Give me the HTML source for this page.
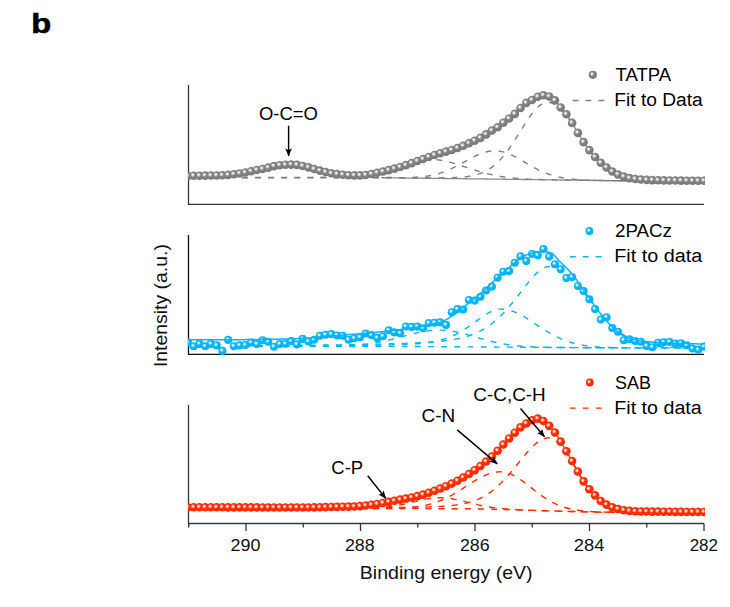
<!DOCTYPE html>
<html><head><meta charset="utf-8"><title>XPS C 1s</title>
<style>html,body{margin:0;padding:0;background:#fff;width:730px;height:607px;overflow:hidden}svg{display:block}</style>
</head><body>
<svg width="730" height="607" viewBox="0 0 730 607">
<defs>
<radialGradient id="gG" cx="0.40" cy="0.39" r="0.58"><stop offset="0" stop-color="#fbfbfb"/><stop offset="0.14" stop-color="#ebebeb"/><stop offset="0.46" stop-color="#838383"/><stop offset="1" stop-color="#787878"/></radialGradient>
<radialGradient id="gB" cx="0.40" cy="0.39" r="0.58"><stop offset="0" stop-color="#fbfeff"/><stop offset="0.14" stop-color="#dff4ff"/><stop offset="0.46" stop-color="#05b5fb"/><stop offset="1" stop-color="#02b1f7"/></radialGradient>
<radialGradient id="gR" cx="0.40" cy="0.39" r="0.58"><stop offset="0" stop-color="#fffbfa"/><stop offset="0.14" stop-color="#ffe0d6"/><stop offset="0.46" stop-color="#ff2d00"/><stop offset="1" stop-color="#fa2b00"/></radialGradient>
<circle id="mG" cx="0" cy="0" r="4.3" fill="url(#gG)"/>
<circle id="mB" cx="0" cy="0" r="4.05" fill="url(#gB)"/>
<circle id="mR" cx="0" cy="0" r="4.3" fill="url(#gR)"/>
<circle id="lG" cx="0" cy="0" r="4.1" fill="url(#gG)"/>
<circle id="lB" cx="0" cy="0" r="3.9" fill="url(#gB)"/>
<circle id="lR" cx="0" cy="0" r="3.9" fill="url(#gR)"/>
<clipPath id="c1"><rect x="187.9" y="60" width="517.1" height="150"/></clipPath>
<clipPath id="c2"><rect x="187.9" y="210" width="517.1" height="150"/></clipPath>
<clipPath id="c3"><rect x="187.9" y="380" width="517.1" height="150"/></clipPath>
<marker id="ah" viewBox="0 0 10 10" preserveAspectRatio="none" refX="9.5" refY="5" markerWidth="8.2" markerHeight="7" markerUnits="userSpaceOnUse" orient="auto"><path d="M0,0.2 L10,5 L0,9.8 L2.4,5 Z" fill="#000"/></marker>
</defs>
<rect width="730" height="607" fill="#fff"/>
<path d="M188.5,85 V204.4 H704" fill="none" stroke="#353535" stroke-width="1.3" stroke-linejoin="round"/>
<path d="M188.5,235 V354.4 H704" fill="none" stroke="#111" stroke-width="1.3" stroke-linejoin="round"/>
<path d="M188.5,405 V523.5 H704" fill="none" stroke="#383838" stroke-width="1.3" stroke-linejoin="round"/>
<path d="M704,523.6 v7.5 M646.75,523.6 v4.0 M589.5,523.6 v7.5 M532.25,523.6 v4.0 M475,523.6 v7.5 M417.75,523.6 v4.0 M360.5,523.6 v7.5 M303.25,523.6 v4.0 M246,523.6 v7.5 M188.75,523.6 v4.0" stroke="#333" stroke-width="1.3" fill="none"/>
<g clip-path="url(#c1)">
<path d="M188,176 L189,175.95 L190,175.91 L191,175.87 L192,175.83 L193,175.8 L194,175.78 L195,175.76 L196,175.74 L197,175.72 L198,175.7 L199,175.69 L200,175.68 L201,175.66 L202,175.65 L203,175.64 L204,175.63 L205,175.62 L206,175.61 L207,175.6 L208,175.59 L209,175.58 L210,175.57 L211,175.56 L212,175.55 L213,175.54 L214,175.52 L215,175.51 L216,175.49 L217,175.47 L218,175.45 L219,175.43 L220,175.4 L221,175.37 L222,175.32 L223,175.27 L224,175.21 L225,175.14 L226,175.06 L227,174.97 L228,174.88 L229,174.78 L230,174.67 L231,174.56 L232,174.44 L233,174.32 L234,174.2 L235,174.07 L236,173.94 L237,173.8 L238,173.67 L239,173.54 L240,173.4 L241,173.26 L242,173.1 L243,172.92 L244,172.73 L245,172.54 L246,172.33 L247,172.11 L248,171.89 L249,171.67 L250,171.44 L251,171.21 L252,170.99 L253,170.77 L254,170.55 L255,170.34 L256,170.14 L257,169.94 L258,169.76 L259,169.59 L260,169.41 L261,169.23 L262,169.04 L263,168.83 L264,168.62 L265,168.39 L266,168.16 L267,167.92 L268,167.68 L269,167.42 L270,167.15 L271,166.87 L272,166.6 L273,166.35 L274,166.14 L275,165.93 L276,165.73 L277,165.55 L278,165.39 L279,165.25 L280,165.15 L281,165.07 L282,164.99 L283,164.93 L284,164.87 L285,164.82 L286,164.77 L287,164.72 L288,164.68 L289,164.64 L290,164.61 L291,164.6 L292,164.61 L293,164.63 L294,164.68 L295,164.73 L296,164.8 L297,164.88 L298,164.98 L299,165.14 L300,165.36 L301,165.6 L302,165.84 L303,166.07 L304,166.29 L305,166.51 L306,166.75 L307,166.99 L308,167.25 L309,167.52 L310,167.81 L311,168.12 L312,168.43 L313,168.73 L314,169.03 L315,169.31 L316,169.6 L317,169.88 L318,170.15 L319,170.42 L320,170.68 L321,170.93 L322,171.17 L323,171.41 L324,171.65 L325,171.88 L326,172.12 L327,172.37 L328,172.61 L329,172.85 L330,173.07 L331,173.27 L332,173.42 L333,173.56 L334,173.69 L335,173.81 L336,173.93 L337,174.05 L338,174.17 L339,174.29 L340,174.41 L341,174.53 L342,174.64 L343,174.76 L344,174.88 L345,175.01 L346,175.13 L347,175.23 L348,175.29 L349,175.32 L350,175.35 L351,175.37 L352,175.39 L353,175.4 L354,175.4 L355,175.4 L356,175.4 L357,175.4 L358,175.4 L359,175.4 L360,175.4 L361,175.37 L362,175.31 L363,175.24 L364,175.15 L365,175.05 L366,174.95 L367,174.82 L368,174.67 L369,174.5 L370,174.32 L371,174.14 L372,173.94 L373,173.72 L374,173.48 L375,173.24 L376,173 L377,172.78 L378,172.57 L379,172.36 L380,172.16 L381,171.96 L382,171.75 L383,171.53 L384,171.3 L385,171.07 L386,170.82 L387,170.58 L388,170.33 L389,170.07 L390,169.82 L391,169.56 L392,169.29 L393,169.02 L394,168.75 L395,168.48 L396,168.21 L397,167.94 L398,167.66 L399,167.37 L400,167.07 L401,166.76 L402,166.44 L403,166.11 L404,165.77 L405,165.44 L406,165.1 L407,164.76 L408,164.42 L409,164.08 L410,163.73 L411,163.37 L412,163 L413,162.62 L414,162.23 L415,161.85 L416,161.47 L417,161.1 L418,160.75 L419,160.42 L420,160.1 L421,159.77 L422,159.44 L423,159.1 L424,158.74 L425,158.38 L426,158.02 L427,157.65 L428,157.28 L429,156.92 L430,156.55 L431,156.17 L432,155.8 L433,155.44 L434,155.1 L435,154.78 L436,154.46 L437,154.16 L438,153.86 L439,153.57 L440,153.29 L441,153 L442,152.73 L443,152.46 L444,152.19 L445,151.91 L446,151.63 L447,151.35 L448,151.08 L449,150.79 L450,150.5 L451,150.2 L452,149.88 L453,149.56 L454,149.22 L455,148.87 L456,148.52 L457,148.16 L458,147.81 L459,147.44 L460,147.07 L461,146.69 L462,146.3 L463,145.9 L464,145.48 L465,145.05 L466,144.62 L467,144.18 L468,143.73 L469,143.29 L470,142.84 L471,142.39 L472,141.93 L473,141.47 L474,141 L475,140.53 L476,140.07 L477,139.6 L478,139.12 L479,138.62 L480,138.09 L481,137.54 L482,136.96 L483,136.36 L484,135.74 L485,135.12 L486,134.48 L487,133.81 L488,133.12 L489,132.43 L490,131.74 L491,131.08 L492,130.46 L493,129.88 L494,129.34 L495,128.8 L496,128.25 L497,127.65 L498,126.99 L499,126.25 L500,125.44 L501,124.6 L502,123.76 L503,122.95 L504,122.2 L505,121.47 L506,120.75 L507,120.03 L508,119.3 L509,118.55 L510,117.79 L511,117.01 L512,116.23 L513,115.42 L514,114.58 L515,113.7 L516,112.74 L517,111.7 L518,110.62 L519,109.54 L520,108.49 L521,107.51 L522,106.53 L523,105.56 L524,104.63 L525,103.77 L526,103.03 L527,102.42 L528,101.89 L529,101.42 L530,100.97 L531,100.51 L532,100 L533,99.41 L534,98.76 L535,98.11 L536,97.51 L537,97.02 L538,96.64 L539,96.27 L540,95.93 L541,95.64 L542,95.42 L543,95.31 L544,95.32 L545,95.42 L546,95.6 L547,95.84 L548,96.13 L549,96.44 L550,96.81 L551,97.33 L552,97.98 L553,98.73 L554,99.55 L555,100.42 L556,101.39 L557,102.57 L558,103.89 L559,105.26 L560,106.61 L561,107.86 L562,109.04 L563,110.18 L564,111.33 L565,112.51 L566,113.75 L567,115.08 L568,116.49 L569,117.97 L570,119.51 L571,121.09 L572,122.7 L573,124.37 L574,126.11 L575,127.89 L576,129.68 L577,131.42 L578,133.11 L579,134.79 L580,136.45 L581,138.09 L582,139.69 L583,141.25 L584,142.74 L585,144.2 L586,145.62 L587,147 L588,148.35 L589,149.66 L590,150.93 L591,152.18 L592,153.4 L593,154.58 L594,155.74 L595,156.86 L596,157.95 L597,159.03 L598,160.08 L599,161.1 L600,162.07 L601,163 L602,163.88 L603,164.71 L604,165.52 L605,166.3 L606,167.05 L607,167.8 L608,168.54 L609,169.27 L610,169.98 L611,170.66 L612,171.3 L613,171.89 L614,172.46 L615,173 L616,173.52 L617,174.01 L618,174.47 L619,174.9 L620,175.31 L621,175.69 L622,176.06 L623,176.41 L624,176.74 L625,177.03 L626,177.31 L627,177.57 L628,177.81 L629,178.04 L630,178.25 L631,178.44 L632,178.6 L633,178.75 L634,178.89 L635,179.02 L636,179.14 L637,179.25 L638,179.34 L639,179.43 L640,179.5 L641,179.56 L642,179.62 L643,179.68 L644,179.73 L645,179.79 L646,179.83 L647,179.88 L648,179.93 L649,179.97 L650,180.01 L651,180.05 L652,180.09 L653,180.12 L654,180.15 L655,180.18 L656,180.21 L657,180.23 L658,180.26 L659,180.28 L660,180.3 L661,180.32 L662,180.34 L663,180.36 L664,180.37 L665,180.39 L666,180.41 L667,180.43 L668,180.45 L669,180.46 L670,180.48 L671,180.5 L672,180.51 L673,180.53 L674,180.54 L675,180.56 L676,180.57 L677,180.59 L678,180.6 L679,180.62 L680,180.63 L681,180.64 L682,180.65 L683,180.67 L684,180.68 L685,180.69 L686,180.7 L687,180.71 L688,180.72 L689,180.73 L690,180.74 L691,180.75 L692,180.75 L693,180.76 L694,180.77 L695,180.77 L696,180.78 L697,180.78 L698,180.79 L699,180.79 L700,180.79 L701,180.8 L702,180.8 L703,180.8 L704,180.8" fill="none" stroke="#7f7f7f" stroke-width="1.2"/>
<path d="M381,177.71 L382,177.72 L383,177.74 L384,177.75 L385,177.76 L386,177.77 L387,177.79 L388,177.8 L389,177.81 L390,177.82 L391,177.83 L392,177.85 L393,177.86 L394,177.87 L395,177.88 L396,177.9 L397,177.91 L398,177.92 L399,177.93 L400,177.94 L401,177.96 L402,177.97 L403,177.98 L404,177.99 L405,178.01 L406,178.02 L407,178.03 L408,178.04 L409,178.05 L410,178.07 L411,178.08 L412,178.09 L413,178.1 L414,178.12 L415,178.13 L416,178.14 L417,178.15 L418,178.16 L419,178.18 L420,178.19 L421,178.2 L422,178.21 L423,178.23 L424,178.24 L425,178.25 L426,178.26 L427,178.27 L428,178.29 L429,178.3 L430,178.31 L431,178.32 L432,178.34 L433,178.35 L434,178.36 L435,178.37 L436,178.38 L437,178.4 L438,178.41 L439,178.42 L440,178.43 L441,178.45 L442,178.46 L443,178.47 L444,178.48 L445,178.49 L446,178.51 L447,178.52 L448,178.53 L449,178.54 L450,178.56 L451,178.57 L452,178.58 L453,178.59 L454,178.6 L455,178.62 L456,178.63 L457,178.64 L458,178.65 L459,178.67 L460,178.68 L461,178.69 L462,178.7 L463,178.71 L464,178.73 L465,178.74 L466,178.75 L467,178.76 L468,178.78 L469,178.79 L470,178.8 L471,178.81 L472,178.83 L473,178.84 L474,178.85 L475,178.87 L476,178.88 L477,178.89 L478,178.91 L479,178.92 L480,178.93 L481,178.94 L482,178.96 L483,178.97 L484,178.98 L485,179 L486,179.01 L487,179.02 L488,179.04 L489,179.05 L490,179.06 L491,179.08 L492,179.09 L493,179.1 L494,179.12 L495,179.13 L496,179.14 L497,179.15 L498,179.17 L499,179.18 L500,179.19 L501,179.21 L502,179.22 L503,179.23 L504,179.25 L505,179.26 L506,179.27 L507,179.29 L508,179.3 L509,179.31 L510,179.33 L511,179.34 L512,179.35 L513,179.36 L514,179.38 L515,179.39 L516,179.4 L517,179.42 L518,179.43 L519,179.44 L520,179.46 L521,179.47 L522,179.48 L523,179.5 L524,179.51 L525,179.52 L526,179.53 L527,179.55 L528,179.56 L529,179.57 L530,179.59 L531,179.6 L532,179.61 L533,179.63 L534,179.64 L535,179.65 L536,179.67 L537,179.68 L538,179.69 L539,179.71 L540,179.72 L541,179.73 L542,179.75 L543,179.76 L544,179.77 L545,179.78 L546,179.8 L547,179.81 L548,179.82 L549,179.84 L550,179.85 L551,179.86 L552,179.88 L553,179.89 L554,179.9 L555,179.92 L556,179.93 L557,179.94 L558,179.96 L559,179.97 L560,179.98 L561,179.99 L562,180.01 L563,180.02 L564,180.03 L565,180.05 L566,180.06 L567,180.07 L568,180.09 L569,180.1 L570,180.11 L571,180.13 L572,180.14 L573,180.15 L574,180.17 L575,180.18 L576,180.19 L577,180.2 L578,180.22 L579,180.23 L580,180.24 L581,180.26 L582,180.27 L583,180.28 L584,180.3 L585,180.31 L586,180.32 L587,180.34 L588,180.35 L589,180.36 L590,180.38 L591,180.39 L592,180.4 L593,180.41 L594,180.43 L595,180.44 L596,180.45 L597,180.47 L598,180.48 L599,180.49 L600,180.51 L601,180.52 L602,180.53 L603,180.55 L604,180.56 L605,180.57 L606,180.59 L607,180.6 L608,180.61 L609,180.62 L610,180.64 L611,180.65 L612,180.66 L613,180.68 L614,180.69 L615,180.7 L616,180.72 L617,180.73 L618,180.74 L619,180.76 L620,180.77 L621,180.78 L622,180.8 L623,180.81 L624,180.82 L625,180.83 L626,180.85 L627,180.86 L628,180.87 L629,180.89 L630,180.9 L631,180.9 L632,180.91 L633,180.91 L634,180.92 L635,180.92 L636,180.92 L637,180.93 L638,180.93 L639,180.94 L640,180.94 L641,180.94 L642,180.95 L643,180.95 L644,180.96 L645,180.96 L646,180.96 L647,180.97 L648,180.97 L649,180.98 L650,180.98 L651,180.99 L652,180.99 L653,180.99 L654,181 L655,181 L656,181.01 L657,181.01 L658,181.01 L659,181.02 L660,181.02 L661,181.03 L662,181.03 L663,181.03 L664,181.04 L665,181.04 L666,181.05 L667,181.05 L668,181.05 L669,181.06 L670,181.06 L671,181.07 L672,181.07 L673,181.07 L674,181.08 L675,181.08 L676,181.09 L677,181.09 L678,181.09 L679,181.1 L680,181.1 L681,181.11 L682,181.11 L683,181.11 L684,181.12 L685,181.12 L686,181.13 L687,181.13 L688,181.14 L689,181.14 L690,181.14 L691,181.15 L692,181.15 L693,181.16 L694,181.16 L695,181.16 L696,181.17 L697,181.17 L698,181.18 L699,181.18 L700,181.18 L701,181.19 L702,181.19 L703,181.2 L704,181.2" fill="none" stroke="#8c8c8c" stroke-width="1.3"/>
<path d="M242,177.55 L243,177.55 L244,177.55 L245,177.55 L246,177.55 L247,177.55 L248,177.55 L249,177.55 L250,177.55 L251,177.55 L252,177.55 L253,177.55 L254,177.55 L255,177.55 L256,177.55 L257,177.55 L258,177.55 L259,177.55 L260,177.55 L261,177.55 L262,177.55 L263,177.55 L264,177.55 L265,177.55 L266,177.55 L267,177.55 L268,177.55 L269,177.55 L270,177.55 L271,177.55 L272,177.55 L273,177.55 L274,177.55 L275,177.55 L276,177.55 L277,177.55 L278,177.55 L279,177.55 L280,177.55 L281,177.55 L282,177.55 L283,177.55 L284,177.55 L285,177.55 L286,177.55 L287,177.55 L288,177.55 L289,177.55 L290,177.55 L291,177.55 L292,177.55 L293,177.55 L294,177.55 L295,177.55 L296,177.55 L297,177.55 L298,177.55 L299,177.55 L300,177.55 L301,177.55 L302,177.55 L303,177.55 L304,177.55 L305,177.54 L306,177.54 L307,177.54 L308,177.54 L309,177.54 L310,177.54 L311,177.54 L312,177.54 L313,177.54 L314,177.54 L315,177.54 L316,177.54 L317,177.54 L318,177.54 L319,177.54 L320,177.54 L321,177.54 L322,177.54 L323,177.54 L324,177.53 L325,177.53 L326,177.53 L327,177.53 L328,177.53 L329,177.53 L330,177.53 L331,177.53 L332,177.53 L333,177.53 L334,177.53 L335,177.53 L336,177.53 L337,177.52 L338,177.52 L339,177.52 L340,177.52 L341,177.52 L342,177.52 L343,177.52 L344,177.52 L345,177.52 L346,177.52 L347,177.51 L348,177.51 L349,177.51 L350,177.51 L351,177.51 L352,177.51 L353,177.51 L354,177.51 L355,177.51 L356,177.5 L357,177.5 L358,177.5 L359,177.5 L360,177.5 L361,177.5 L362,177.5 L363,177.49 L364,177.49 L365,177.49 L366,177.49 L367,177.49 L368,177.49 L369,177.48 L370,177.48 L371,177.48 L372,177.48 L373,177.48 L374,177.47 L375,177.47 L376,177.47 L377,177.47 L378,177.47 L379,177.46 L380,177.46 L381,177.47 L382,177.48 L383,177.49 L384,177.5 L385,177.51 L386,177.52 L387,177.53 L388,177.54 L389,177.55 L390,177.55 L391,177.56 L392,177.57 L393,177.58 L394,177.59 L395,177.6 L396,177.61 L397,177.62 L398,177.62 L399,177.63 L400,177.64 L401,177.65 L402,177.66 L403,177.67 L404,177.67 L405,177.68 L406,177.69 L407,177.7 L408,177.7 L409,177.71 L410,177.72 L411,177.73 L412,177.73 L413,177.74 L414,177.75 L415,177.76 L416,177.76 L417,177.77 L418,177.77 L419,177.78 L420,177.79 L421,177.79 L422,177.8 L423,177.8 L424,177.81 L425,177.81 L426,177.82 L427,177.82 L428,177.83 L429,177.83 L430,177.83 L431,177.84 L432,177.84 L433,177.84 L434,177.84 L435,177.84 L436,177.84 L437,177.84 L438,177.84 L439,177.84 L440,177.83 L441,177.83 L442,177.82 L443,177.81 L444,177.81 L445,177.8 L446,177.78 L447,177.77 L448,177.75 L449,177.73 L450,177.71 L451,177.69 L452,177.66 L453,177.63 L454,177.59 L455,177.56 L456,177.51 L457,177.46 L458,177.41 L459,177.35 L460,177.28 L461,177.21 L462,177.13 L463,177.04 L464,176.95 L465,176.84 L466,176.73 L467,176.6 L468,176.46 L469,176.31 L470,176.15 L471,175.97 L472,175.78 L473,175.57 L474,175.35 L475,175.1 L476,174.84 L477,174.56 L478,174.25 L479,173.93 L480,173.58 L481,173.2 L482,172.8 L483,172.37 L484,171.92 L485,171.43 L486,170.92 L487,170.37 L488,169.78 L489,169.17 L490,168.52 L491,167.83 L492,167.11 L493,166.34 L494,165.54 L495,164.7 L496,163.82 L497,162.9 L498,161.94 L499,160.94 L500,159.89 L501,158.81 L502,157.68 L503,156.52 L504,155.31 L505,154.07 L506,152.79 L507,151.47 L508,150.11 L509,148.72 L510,147.3 L511,145.84 L512,144.36 L513,142.85 L514,141.32 L515,139.77 L516,138.2 L517,136.61 L518,135.01 L519,133.41 L520,131.8 L521,130.19 L522,128.58 L523,126.98 L524,125.39 L525,123.82 L526,122.27 L527,120.74 L528,119.25 L529,117.79 L530,116.37 L531,114.99 L532,113.66 L533,112.38 L534,111.16 L535,110.01 L536,108.92 L537,107.9 L538,106.95 L539,106.09 L540,105.31 L541,104.61 L542,104 L543,103.48 L544,103.06 L545,102.73 L546,102.49 L547,102.36 L548,102.32 L549,102.38 L550,102.53 L551,102.76 L552,103.09 L553,103.49 L554,103.99 L555,104.56 L556,105.22 L557,105.96 L558,106.77 L559,107.65 L560,108.6 L561,109.62 L562,110.71 L563,111.85 L564,113.04 L565,114.29 L566,115.58 L567,116.92 L568,118.3 L569,119.71 L570,121.16 L571,122.63 L572,124.12 L573,125.64 L574,127.17 L575,128.71 L576,130.26 L577,131.81 L578,133.37 L579,134.92 L580,136.47 L581,138.01 L582,139.54 L583,141.05 L584,142.55 L585,144.03 L586,145.48 L587,146.91 L588,148.32 L589,149.7 L590,151.05 L591,152.36 L592,153.65 L593,154.9 L594,156.12 L595,157.3 L596,158.45 L597,159.56 L598,160.64 L599,161.67 L600,162.67 L601,163.64 L602,164.56 L603,165.45 L604,166.31 L605,167.12 L606,167.91 L607,168.65 L608,169.37 L609,170.05 L610,170.69 L611,171.31 L612,171.89 L613,172.44 L614,172.97 L615,173.47 L616,173.94 L617,174.38 L618,174.8 L619,175.19 L620,175.56 L621,175.91 L622,176.24 L623,176.55 L624,176.84 L625,177.11 L626,177.36 L627,177.6 L628,177.83 L629,178.03 L630,178.23 L631,178.4 L632,178.56 L633,178.71 L634,178.85 L635,178.98 L636,179.1 L637,179.21 L638,179.31 L639,179.41 L640,179.5 L641,179.58 L642,179.66 L643,179.73 L644,179.79 L645,179.85 L646,179.91 L647,179.96 L648,180.01 L649,180.05 L650,180.1 L651,180.14 L652,180.17 L653,180.21 L654,180.24 L655,180.27 L656,180.3 L657,180.32 L658,180.35 L659,180.37 L660,180.39 L661,180.41 L662,180.43 L663,180.45 L664,180.47 L665,180.49 L666,180.5 L667,180.52 L668,180.54 L669,180.55 L670,180.56 L671,180.58 L672,180.59 L673,180.6 L674,180.62 L675,180.63 L676,180.64 L677,180.65 L678,180.66 L679,180.67 L680,180.68 L681,180.69 L682,180.7 L683,180.71 L684,180.72 L685,180.73 L686,180.74 L687,180.75 L688,180.76 L689,180.77 L690,180.78 L691,180.79 L692,180.8 L693,180.81 L694,180.82 L695,180.82 L696,180.83 L697,180.84 L698,180.85 L699,180.86 L700,180.87 L701,180.87 L702,180.88 L703,180.89 L704,180.9" fill="none" stroke="#7f7f7f" stroke-width="1.4" stroke-dasharray="5.8 7.3"/>
<path d="M242,177.63 L243,177.63 L244,177.63 L245,177.63 L246,177.63 L247,177.63 L248,177.63 L249,177.63 L250,177.63 L251,177.63 L252,177.63 L253,177.63 L254,177.63 L255,177.63 L256,177.64 L257,177.64 L258,177.64 L259,177.64 L260,177.64 L261,177.64 L262,177.64 L263,177.64 L264,177.64 L265,177.64 L266,177.64 L267,177.64 L268,177.64 L269,177.64 L270,177.64 L271,177.64 L272,177.64 L273,177.64 L274,177.64 L275,177.65 L276,177.65 L277,177.65 L278,177.65 L279,177.65 L280,177.65 L281,177.65 L282,177.65 L283,177.65 L284,177.65 L285,177.65 L286,177.65 L287,177.65 L288,177.65 L289,177.65 L290,177.65 L291,177.65 L292,177.65 L293,177.65 L294,177.66 L295,177.66 L296,177.66 L297,177.66 L298,177.66 L299,177.66 L300,177.66 L301,177.66 L302,177.66 L303,177.66 L304,177.66 L305,177.66 L306,177.66 L307,177.66 L308,177.66 L309,177.66 L310,177.66 L311,177.66 L312,177.66 L313,177.67 L314,177.67 L315,177.67 L316,177.67 L317,177.67 L318,177.67 L319,177.67 L320,177.67 L321,177.67 L322,177.67 L323,177.67 L324,177.67 L325,177.67 L326,177.67 L327,177.67 L328,177.67 L329,177.67 L330,177.67 L331,177.67 L332,177.67 L333,177.68 L334,177.68 L335,177.68 L336,177.68 L337,177.68 L338,177.68 L339,177.68 L340,177.68 L341,177.68 L342,177.68 L343,177.68 L344,177.68 L345,177.68 L346,177.68 L347,177.68 L348,177.68 L349,177.68 L350,177.68 L351,177.68 L352,177.69 L353,177.69 L354,177.69 L355,177.69 L356,177.69 L357,177.69 L358,177.69 L359,177.69 L360,177.69 L361,177.69 L362,177.69 L363,177.69 L364,177.69 L365,177.69 L366,177.69 L367,177.69 L368,177.69 L369,177.69 L370,177.69 L371,177.69 L372,177.69 L373,177.69 L374,177.69 L375,177.69 L376,177.69 L377,177.69 L378,177.68 L379,177.68 L380,177.68 L381,177.69 L382,177.7 L383,177.71 L384,177.72 L385,177.73 L386,177.73 L387,177.74 L388,177.75 L389,177.75 L390,177.76 L391,177.76 L392,177.77 L393,177.77 L394,177.77 L395,177.77 L396,177.77 L397,177.77 L398,177.77 L399,177.76 L400,177.76 L401,177.75 L402,177.74 L403,177.72 L404,177.71 L405,177.69 L406,177.67 L407,177.65 L408,177.62 L409,177.59 L410,177.56 L411,177.52 L412,177.48 L413,177.43 L414,177.38 L415,177.32 L416,177.26 L417,177.19 L418,177.11 L419,177.03 L420,176.95 L421,176.85 L422,176.75 L423,176.64 L424,176.52 L425,176.39 L426,176.25 L427,176.11 L428,175.95 L429,175.78 L430,175.6 L431,175.42 L432,175.22 L433,175 L434,174.78 L435,174.54 L436,174.29 L437,174.03 L438,173.75 L439,173.46 L440,173.16 L441,172.85 L442,172.51 L443,172.17 L444,171.81 L445,171.44 L446,171.05 L447,170.65 L448,170.24 L449,169.81 L450,169.37 L451,168.91 L452,168.45 L453,167.97 L454,167.48 L455,166.98 L456,166.47 L457,165.95 L458,165.43 L459,164.89 L460,164.35 L461,163.8 L462,163.25 L463,162.69 L464,162.13 L465,161.57 L466,161.01 L467,160.46 L468,159.9 L469,159.35 L470,158.8 L471,158.26 L472,157.73 L473,157.21 L474,156.7 L475,156.2 L476,155.72 L477,155.25 L478,154.8 L479,154.37 L480,153.96 L481,153.56 L482,153.19 L483,152.85 L484,152.52 L485,152.23 L486,151.96 L487,151.71 L488,151.5 L489,151.31 L490,151.15 L491,151.03 L492,150.93 L493,150.86 L494,150.83 L495,150.83 L496,150.86 L497,150.92 L498,151.01 L499,151.13 L500,151.28 L501,151.47 L502,151.68 L503,151.92 L504,152.19 L505,152.49 L506,152.81 L507,153.16 L508,153.53 L509,153.93 L510,154.35 L511,154.79 L512,155.25 L513,155.73 L514,156.22 L515,156.73 L516,157.25 L517,157.79 L518,158.34 L519,158.89 L520,159.46 L521,160.03 L522,160.61 L523,161.19 L524,161.77 L525,162.36 L526,162.94 L527,163.53 L528,164.11 L529,164.69 L530,165.26 L531,165.83 L532,166.39 L533,166.94 L534,167.48 L535,168.02 L536,168.54 L537,169.06 L538,169.56 L539,170.05 L540,170.53 L541,171 L542,171.45 L543,171.89 L544,172.32 L545,172.73 L546,173.13 L547,173.51 L548,173.88 L549,174.24 L550,174.58 L551,174.91 L552,175.22 L553,175.52 L554,175.81 L555,176.09 L556,176.35 L557,176.6 L558,176.83 L559,177.06 L560,177.27 L561,177.48 L562,177.67 L563,177.85 L564,178.02 L565,178.19 L566,178.34 L567,178.48 L568,178.62 L569,178.75 L570,178.87 L571,178.98 L572,179.09 L573,179.19 L574,179.28 L575,179.37 L576,179.45 L577,179.53 L578,179.6 L579,179.67 L580,179.73 L581,179.79 L582,179.85 L583,179.9 L584,179.95 L585,179.99 L586,180.04 L587,180.08 L588,180.12 L589,180.15 L590,180.19 L591,180.22 L592,180.25 L593,180.28 L594,180.31 L595,180.33 L596,180.36 L597,180.38 L598,180.4 L599,180.42 L600,180.44 L601,180.46 L602,180.48 L603,180.5 L604,180.52 L605,180.54 L606,180.55 L607,180.57 L608,180.59 L609,180.6 L610,180.62 L611,180.63 L612,180.65 L613,180.66 L614,180.68 L615,180.69 L616,180.71 L617,180.72 L618,180.74 L619,180.75 L620,180.76 L621,180.78 L622,180.79 L623,180.8 L624,180.82 L625,180.83 L626,180.85 L627,180.86 L628,180.87 L629,180.89 L630,180.9 L631,180.9 L632,180.91 L633,180.91 L634,180.92 L635,180.92 L636,180.92 L637,180.93 L638,180.93 L639,180.94 L640,180.94 L641,180.94 L642,180.95 L643,180.95 L644,180.96 L645,180.96 L646,180.96 L647,180.97 L648,180.97 L649,180.98 L650,180.98 L651,180.99 L652,180.99 L653,180.99 L654,181 L655,181 L656,181.01 L657,181.01 L658,181.01 L659,181.02 L660,181.02 L661,181.03 L662,181.03 L663,181.03 L664,181.04 L665,181.04 L666,181.05 L667,181.05 L668,181.05 L669,181.06 L670,181.06 L671,181.07 L672,181.07 L673,181.07 L674,181.08 L675,181.08 L676,181.09 L677,181.09 L678,181.09 L679,181.1 L680,181.1 L681,181.11 L682,181.11 L683,181.11 L684,181.12 L685,181.12 L686,181.13 L687,181.13 L688,181.14 L689,181.14 L690,181.14 L691,181.15 L692,181.15 L693,181.16 L694,181.16 L695,181.16 L696,181.17 L697,181.17 L698,181.18 L699,181.18 L700,181.18 L701,181.19 L702,181.19 L703,181.2 L704,181.2" fill="none" stroke="#7f7f7f" stroke-width="1.4" stroke-dasharray="5.8 7.3"/>
<path d="M242,177.63 L243,177.63 L244,177.63 L245,177.63 L246,177.63 L247,177.63 L248,177.63 L249,177.63 L250,177.63 L251,177.63 L252,177.63 L253,177.63 L254,177.63 L255,177.63 L256,177.64 L257,177.64 L258,177.64 L259,177.64 L260,177.64 L261,177.64 L262,177.64 L263,177.64 L264,177.64 L265,177.64 L266,177.64 L267,177.64 L268,177.64 L269,177.64 L270,177.64 L271,177.64 L272,177.64 L273,177.64 L274,177.64 L275,177.64 L276,177.64 L277,177.64 L278,177.64 L279,177.64 L280,177.64 L281,177.64 L282,177.64 L283,177.64 L284,177.64 L285,177.64 L286,177.64 L287,177.64 L288,177.64 L289,177.64 L290,177.64 L291,177.64 L292,177.64 L293,177.64 L294,177.64 L295,177.64 L296,177.64 L297,177.64 L298,177.63 L299,177.63 L300,177.63 L301,177.63 L302,177.63 L303,177.62 L304,177.62 L305,177.62 L306,177.61 L307,177.61 L308,177.6 L309,177.6 L310,177.59 L311,177.58 L312,177.58 L313,177.57 L314,177.56 L315,177.55 L316,177.54 L317,177.53 L318,177.52 L319,177.5 L320,177.49 L321,177.48 L322,177.46 L323,177.44 L324,177.42 L325,177.4 L326,177.38 L327,177.36 L328,177.33 L329,177.3 L330,177.27 L331,177.24 L332,177.21 L333,177.17 L334,177.13 L335,177.09 L336,177.05 L337,177 L338,176.95 L339,176.9 L340,176.84 L341,176.79 L342,176.72 L343,176.66 L344,176.59 L345,176.51 L346,176.43 L347,176.35 L348,176.26 L349,176.17 L350,176.08 L351,175.97 L352,175.87 L353,175.76 L354,175.64 L355,175.52 L356,175.39 L357,175.26 L358,175.12 L359,174.97 L360,174.82 L361,174.66 L362,174.5 L363,174.33 L364,174.15 L365,173.97 L366,173.78 L367,173.58 L368,173.38 L369,173.17 L370,172.96 L371,172.74 L372,172.51 L373,172.27 L374,172.03 L375,171.78 L376,171.53 L377,171.27 L378,171 L379,170.73 L380,170.46 L381,170.19 L382,169.91 L383,169.63 L384,169.35 L385,169.06 L386,168.77 L387,168.48 L388,168.18 L389,167.88 L390,167.57 L391,167.27 L392,166.96 L393,166.65 L394,166.35 L395,166.04 L396,165.73 L397,165.43 L398,165.12 L399,164.82 L400,164.52 L401,164.22 L402,163.93 L403,163.64 L404,163.36 L405,163.08 L406,162.8 L407,162.54 L408,162.28 L409,162.03 L410,161.78 L411,161.55 L412,161.32 L413,161.11 L414,160.9 L415,160.71 L416,160.52 L417,160.35 L418,160.19 L419,160.04 L420,159.91 L421,159.79 L422,159.68 L423,159.58 L424,159.5 L425,159.43 L426,159.38 L427,159.34 L428,159.32 L429,159.31 L430,159.31 L431,159.33 L432,159.36 L433,159.41 L434,159.48 L435,159.55 L436,159.65 L437,159.75 L438,159.87 L439,160.01 L440,160.15 L441,160.31 L442,160.48 L443,160.67 L444,160.87 L445,161.07 L446,161.29 L447,161.52 L448,161.76 L449,162.01 L450,162.27 L451,162.54 L452,162.82 L453,163.1 L454,163.39 L455,163.69 L456,163.99 L457,164.3 L458,164.61 L459,164.93 L460,165.25 L461,165.58 L462,165.9 L463,166.23 L464,166.56 L465,166.89 L466,167.23 L467,167.56 L468,167.89 L469,168.22 L470,168.55 L471,168.88 L472,169.21 L473,169.53 L474,169.85 L475,170.17 L476,170.48 L477,170.79 L478,171.09 L479,171.39 L480,171.69 L481,171.98 L482,172.26 L483,172.54 L484,172.82 L485,173.08 L486,173.34 L487,173.6 L488,173.85 L489,174.09 L490,174.32 L491,174.55 L492,174.78 L493,174.99 L494,175.2 L495,175.41 L496,175.6 L497,175.79 L498,175.98 L499,176.15 L500,176.32 L501,176.49 L502,176.65 L503,176.8 L504,176.95 L505,177.09 L506,177.23 L507,177.36 L508,177.48 L509,177.6 L510,177.72 L511,177.83 L512,177.93 L513,178.03 L514,178.13 L515,178.22 L516,178.31 L517,178.39 L518,178.47 L519,178.55 L520,178.62 L521,178.69 L522,178.76 L523,178.82 L524,178.88 L525,178.94 L526,178.99 L527,179.04 L528,179.09 L529,179.14 L530,179.19 L531,179.23 L532,179.27 L533,179.31 L534,179.35 L535,179.38 L536,179.42 L537,179.45 L538,179.48 L539,179.51 L540,179.54 L541,179.57 L542,179.59 L543,179.62 L544,179.64 L545,179.67 L546,179.69 L547,179.71 L548,179.74 L549,179.76 L550,179.78 L551,179.8 L552,179.82 L553,179.83 L554,179.85 L555,179.87 L556,179.89 L557,179.9 L558,179.92 L559,179.94 L560,179.95 L561,179.97 L562,179.98 L563,180 L564,180.02 L565,180.03 L566,180.04 L567,180.06 L568,180.07 L569,180.09 L570,180.1 L571,180.12 L572,180.13 L573,180.14 L574,180.16 L575,180.17 L576,180.19 L577,180.2 L578,180.21 L579,180.23 L580,180.24 L581,180.25 L582,180.27 L583,180.28 L584,180.29 L585,180.31 L586,180.32 L587,180.33 L588,180.35 L589,180.36 L590,180.37 L591,180.39 L592,180.4 L593,180.41 L594,180.43 L595,180.44 L596,180.45 L597,180.47 L598,180.48 L599,180.49 L600,180.51 L601,180.52 L602,180.53 L603,180.55 L604,180.56 L605,180.57 L606,180.58 L607,180.6 L608,180.61 L609,180.62 L610,180.64 L611,180.65 L612,180.66 L613,180.68 L614,180.69 L615,180.7 L616,180.72 L617,180.73 L618,180.74 L619,180.76 L620,180.77 L621,180.78 L622,180.79 L623,180.81 L624,180.82 L625,180.83 L626,180.85 L627,180.86 L628,180.87 L629,180.89 L630,180.9 L631,180.9 L632,180.91 L633,180.91 L634,180.92 L635,180.92 L636,180.92 L637,180.93 L638,180.93 L639,180.94 L640,180.94 L641,180.94 L642,180.95 L643,180.95 L644,180.96 L645,180.96 L646,180.96 L647,180.97 L648,180.97 L649,180.98 L650,180.98 L651,180.99 L652,180.99 L653,180.99 L654,181 L655,181 L656,181.01 L657,181.01 L658,181.01 L659,181.02 L660,181.02 L661,181.03 L662,181.03 L663,181.03 L664,181.04 L665,181.04 L666,181.05 L667,181.05 L668,181.05 L669,181.06 L670,181.06 L671,181.07 L672,181.07 L673,181.07 L674,181.08 L675,181.08 L676,181.09 L677,181.09 L678,181.09 L679,181.1 L680,181.1 L681,181.11 L682,181.11 L683,181.11 L684,181.12 L685,181.12 L686,181.13 L687,181.13 L688,181.14 L689,181.14 L690,181.14 L691,181.15 L692,181.15 L693,181.16 L694,181.16 L695,181.16 L696,181.17 L697,181.17 L698,181.18 L699,181.18 L700,181.18 L701,181.19 L702,181.19 L703,181.2 L704,181.2" fill="none" stroke="#7f7f7f" stroke-width="1.4" stroke-dasharray="5.8 7.3"/>
<circle cx="188" cy="176" r="4.3" fill="url(#gG)"/>
<circle cx="193.73" cy="175.78" r="4.3" fill="url(#gG)"/>
<circle cx="199.47" cy="175.68" r="4.3" fill="url(#gG)"/>
<circle cx="205.2" cy="175.62" r="4.3" fill="url(#gG)"/>
<circle cx="210.93" cy="175.56" r="4.3" fill="url(#gG)"/>
<circle cx="216.67" cy="175.48" r="4.3" fill="url(#gG)"/>
<circle cx="222.4" cy="175.31" r="4.3" fill="url(#gG)"/>
<circle cx="228.13" cy="174.87" r="4.3" fill="url(#gG)"/>
<circle cx="233.87" cy="174.21" r="4.3" fill="url(#gG)"/>
<circle cx="239.6" cy="173.45" r="4.3" fill="url(#gG)"/>
<circle cx="245.33" cy="172.47" r="4.3" fill="url(#gG)"/>
<circle cx="251.07" cy="171.2" r="4.3" fill="url(#gG)"/>
<circle cx="256.8" cy="169.98" r="4.3" fill="url(#gG)"/>
<circle cx="262.53" cy="168.93" r="4.3" fill="url(#gG)"/>
<circle cx="268.27" cy="167.61" r="4.3" fill="url(#gG)"/>
<circle cx="274" cy="166.14" r="4.3" fill="url(#gG)"/>
<circle cx="279.73" cy="165.18" r="4.3" fill="url(#gG)"/>
<circle cx="285.47" cy="164.8" r="4.3" fill="url(#gG)"/>
<circle cx="291.2" cy="164.6" r="4.3" fill="url(#gG)"/>
<circle cx="296.93" cy="164.87" r="4.3" fill="url(#gG)"/>
<circle cx="302.67" cy="165.99" r="4.3" fill="url(#gG)"/>
<circle cx="308.4" cy="167.35" r="4.3" fill="url(#gG)"/>
<circle cx="314.13" cy="169.07" r="4.3" fill="url(#gG)"/>
<circle cx="319.87" cy="170.64" r="4.3" fill="url(#gG)"/>
<circle cx="325.6" cy="172.02" r="4.3" fill="url(#gG)"/>
<circle cx="331.33" cy="173.32" r="4.3" fill="url(#gG)"/>
<circle cx="337.07" cy="174.06" r="4.3" fill="url(#gG)"/>
<circle cx="342.8" cy="174.73" r="4.3" fill="url(#gG)"/>
<circle cx="348.53" cy="175.31" r="4.3" fill="url(#gG)"/>
<circle cx="354.27" cy="175.4" r="4.3" fill="url(#gG)"/>
<circle cx="360" cy="175.4" r="4.3" fill="url(#gG)"/>
<circle cx="365.73" cy="174.98" r="4.3" fill="url(#gG)"/>
<circle cx="371.47" cy="174.05" r="4.3" fill="url(#gG)"/>
<circle cx="377.2" cy="172.74" r="4.3" fill="url(#gG)"/>
<circle cx="382.93" cy="171.55" r="4.3" fill="url(#gG)"/>
<circle cx="388.67" cy="170.16" r="4.3" fill="url(#gG)"/>
<circle cx="394.4" cy="168.65" r="4.3" fill="url(#gG)"/>
<circle cx="400.13" cy="167.03" r="4.3" fill="url(#gG)"/>
<circle cx="405.87" cy="165.14" r="4.3" fill="url(#gG)"/>
<circle cx="411.6" cy="163.15" r="4.3" fill="url(#gG)"/>
<circle cx="417.33" cy="160.98" r="4.3" fill="url(#gG)"/>
<circle cx="423.07" cy="159.07" r="4.3" fill="url(#gG)"/>
<circle cx="428.8" cy="156.99" r="4.3" fill="url(#gG)"/>
<circle cx="434.53" cy="154.93" r="4.3" fill="url(#gG)"/>
<circle cx="440.27" cy="153.21" r="4.3" fill="url(#gG)"/>
<circle cx="446" cy="151.63" r="4.3" fill="url(#gG)"/>
<circle cx="451.73" cy="149.97" r="4.3" fill="url(#gG)"/>
<circle cx="457.47" cy="148" r="4.3" fill="url(#gG)"/>
<circle cx="463.2" cy="145.82" r="4.3" fill="url(#gG)"/>
<circle cx="468.93" cy="143.32" r="4.3" fill="url(#gG)"/>
<circle cx="474.67" cy="140.69" r="4.3" fill="url(#gG)"/>
<circle cx="480.4" cy="137.87" r="4.3" fill="url(#gG)"/>
<circle cx="486.13" cy="134.39" r="4.3" fill="url(#gG)"/>
<circle cx="491.87" cy="130.54" r="4.3" fill="url(#gG)"/>
<circle cx="497.6" cy="127.27" r="4.3" fill="url(#gG)"/>
<circle cx="503.33" cy="122.7" r="4.3" fill="url(#gG)"/>
<circle cx="509.07" cy="118.5" r="4.3" fill="url(#gG)"/>
<circle cx="514.8" cy="113.88" r="4.3" fill="url(#gG)"/>
<circle cx="520.53" cy="107.96" r="4.3" fill="url(#gG)"/>
<circle cx="526.27" cy="102.86" r="4.3" fill="url(#gG)"/>
<circle cx="532" cy="100" r="4.3" fill="url(#gG)"/>
<circle cx="537.73" cy="96.74" r="4.3" fill="url(#gG)"/>
<circle cx="543.47" cy="95.3" r="4.3" fill="url(#gG)"/>
<circle cx="549.2" cy="96.5" r="4.3" fill="url(#gG)"/>
<circle cx="554.93" cy="100.36" r="4.3" fill="url(#gG)"/>
<circle cx="560.67" cy="107.46" r="4.3" fill="url(#gG)"/>
<circle cx="566.4" cy="114.27" r="4.3" fill="url(#gG)"/>
<circle cx="572.13" cy="122.92" r="4.3" fill="url(#gG)"/>
<circle cx="577.87" cy="132.88" r="4.3" fill="url(#gG)"/>
<circle cx="583.6" cy="142.15" r="4.3" fill="url(#gG)"/>
<circle cx="589.33" cy="150.09" r="4.3" fill="url(#gG)"/>
<circle cx="595.07" cy="156.93" r="4.3" fill="url(#gG)"/>
<circle cx="600.8" cy="162.82" r="4.3" fill="url(#gG)"/>
<circle cx="606.53" cy="167.45" r="4.3" fill="url(#gG)"/>
<circle cx="612.27" cy="171.46" r="4.3" fill="url(#gG)"/>
<circle cx="618" cy="174.47" r="4.3" fill="url(#gG)"/>
<circle cx="623.73" cy="176.65" r="4.3" fill="url(#gG)"/>
<circle cx="629.47" cy="178.14" r="4.3" fill="url(#gG)"/>
<circle cx="635.2" cy="179.04" r="4.3" fill="url(#gG)"/>
<circle cx="640.93" cy="179.56" r="4.3" fill="url(#gG)"/>
<circle cx="646.67" cy="179.87" r="4.3" fill="url(#gG)"/>
<circle cx="652.4" cy="180.1" r="4.3" fill="url(#gG)"/>
<circle cx="658.13" cy="180.26" r="4.3" fill="url(#gG)"/>
<circle cx="663.87" cy="180.37" r="4.3" fill="url(#gG)"/>
<circle cx="669.6" cy="180.47" r="4.3" fill="url(#gG)"/>
<circle cx="675.33" cy="180.56" r="4.3" fill="url(#gG)"/>
<circle cx="681.07" cy="180.64" r="4.3" fill="url(#gG)"/>
<circle cx="686.8" cy="180.71" r="4.3" fill="url(#gG)"/>
<circle cx="692.53" cy="180.76" r="4.3" fill="url(#gG)"/>
<circle cx="698.27" cy="180.79" r="4.3" fill="url(#gG)"/>
<circle cx="704" cy="180.8" r="4.3" fill="url(#gG)"/>
</g>
<g clip-path="url(#c2)">
<path d="M244,345.59 L245,345.58 L246,345.58 L247,345.58 L248,345.57 L249,345.57 L250,345.56 L251,345.56 L252,345.55 L253,345.55 L254,345.54 L255,345.54 L256,345.53 L257,345.53 L258,345.52 L259,345.52 L260,345.51 L261,345.51 L262,345.5 L263,345.5 L264,345.49 L265,345.49 L266,345.48 L267,345.48 L268,345.47 L269,345.47 L270,345.46 L271,345.45 L272,345.45 L273,345.44 L274,345.44 L275,345.43 L276,345.43 L277,345.42 L278,345.41 L279,345.41 L280,345.4 L281,345.39 L282,345.39 L283,345.38 L284,345.37 L285,345.37 L286,345.36 L287,345.35 L288,345.35 L289,345.34 L290,345.33 L291,345.33 L292,345.32 L293,345.31 L294,345.3 L295,345.3 L296,345.29 L297,345.28 L298,345.27 L299,345.27 L300,345.26 L301,345.25 L302,345.24 L303,345.23 L304,345.22 L305,345.22 L306,345.21 L307,345.2 L308,345.19 L309,345.18 L310,345.17 L311,345.16 L312,345.15 L313,345.14 L314,345.13 L315,345.12 L316,345.11 L317,345.1 L318,345.09 L319,345.08 L320,345.07 L321,345.06 L322,345.05 L323,345.04 L324,345.03 L325,345.02 L326,345.01 L327,345 L328,344.99 L329,344.97 L330,344.96 L331,344.95 L332,344.94 L333,344.93 L334,344.91 L335,344.9 L336,344.89 L337,344.88 L338,344.86 L339,344.85 L340,344.84 L341,344.82 L342,344.81 L343,344.79 L344,344.78 L345,344.76 L346,344.75 L347,344.74 L348,344.72 L349,344.7 L350,344.69 L351,344.67 L352,344.66 L353,344.64 L354,344.62 L355,344.61 L356,344.59 L357,344.57 L358,344.56 L359,344.54 L360,344.52 L361,344.5 L362,344.48 L363,344.46 L364,344.44 L365,344.42 L366,344.4 L367,344.38 L368,344.36 L369,344.34 L370,344.32 L371,344.3 L372,344.28 L373,344.26 L374,344.23 L375,344.21 L376,344.19 L377,344.16 L378,344.14 L379,344.12 L380,344.09 L381,344.07 L382,344.04 L383,344.01 L384,343.99 L385,343.96 L386,343.93 L387,343.9 L388,343.87 L389,343.85 L390,343.82 L391,343.79 L392,343.76 L393,343.72 L394,343.69 L395,343.66 L396,343.63 L397,343.59 L398,343.56 L399,343.52 L400,343.49 L401,343.46 L402,343.43 L403,343.4 L404,343.36 L405,343.33 L406,343.3 L407,343.26 L408,343.23 L409,343.19 L410,343.15 L411,343.11 L412,343.08 L413,343.04 L414,342.99 L415,342.95 L416,342.91 L417,342.86 L418,342.82 L419,342.77 L420,342.72 L421,342.67 L422,342.62 L423,342.56 L424,342.51 L425,342.45 L426,342.39 L427,342.33 L428,342.27 L429,342.2 L430,342.14 L431,342.07 L432,342 L433,341.92 L434,341.84 L435,341.76 L436,341.68 L437,341.6 L438,341.51 L439,341.41 L440,341.32 L441,341.22 L442,341.11 L443,341.01 L444,340.89 L445,340.78 L446,340.66 L447,340.53 L448,340.4 L449,340.26 L450,340.11 L451,339.96 L452,339.81 L453,339.64 L454,339.47 L455,339.29 L456,339.11 L457,338.91 L458,338.71 L459,338.5 L460,338.28 L461,338.05 L462,337.8 L463,337.55 L464,337.29 L465,337.01 L466,336.73 L467,336.43 L468,336.12 L469,335.79 L470,335.45 L471,335.1 L472,334.73 L473,334.34 L474,333.94 L475,333.53 L476,333.09 L477,332.64 L478,332.17 L479,331.68 L480,331.18 L481,330.65 L482,330.1 L483,329.54 L484,328.95 L485,328.34 L486,327.71 L487,327.06 L488,326.38 L489,325.69 L490,324.97 L491,324.22 L492,323.46 L493,322.67 L494,321.85 L495,321.02 L496,320.15 L497,319.27 L498,318.36 L499,317.43 L500,316.47 L501,315.49 L502,314.48 L503,313.46 L504,312.41 L505,311.33 L506,310.24 L507,309.12 L508,307.99 L509,306.83 L510,305.66 L511,304.46 L512,303.25 L513,302.03 L514,300.79 L515,299.53 L516,298.27 L517,296.99 L518,295.71 L519,294.42 L520,293.12 L521,291.82 L522,290.52 L523,289.22 L524,287.93 L525,286.64 L526,285.36 L527,284.09 L528,282.84 L529,281.61 L530,280.4 L531,279.22 L532,278.07 L533,276.94 L534,275.86 L535,274.82 L536,273.82 L537,272.87 L538,271.97 L539,271.13 L540,270.34 L541,269.62 L542,268.97 L543,268.39 L544,267.87 L545,267.44 L546,267.08 L547,266.8 L548,266.6 L549,266.48 L550,266.45 L551,266.48 L552,266.57 L553,266.72 L554,266.91 L555,267.17 L556,267.47 L557,267.83 L558,268.24 L559,268.7 L560,269.21 L561,269.77 L562,270.37 L563,271.03 L564,271.73 L565,272.48 L566,273.26 L567,274.09 L568,274.96 L569,275.87 L570,276.81 L571,277.79 L572,278.81 L573,279.85 L574,280.92 L575,282.02 L576,283.15 L577,284.3 L578,285.47 L579,286.66 L580,287.87 L581,289.09 L582,290.33 L583,291.58 L584,292.84 L585,294.11 L586,295.39 L587,296.67 L588,297.95 L589,299.23 L590,300.51 L591,301.79 L592,303.07 L593,304.34 L594,305.6 L595,306.86 L596,308.1 L597,309.33 L598,310.55 L599,311.76 L600,312.95 L601,314.12 L602,315.27 L603,316.4 L604,317.51 L605,318.61 L606,319.68 L607,320.74 L608,321.77 L609,322.78 L610,323.76 L611,324.72 L612,325.66 L613,326.58 L614,327.47 L615,328.34 L616,329.18 L617,330 L618,330.79 L619,331.56 L620,332.31 L621,333.03 L622,333.73 L623,334.4 L624,335.05 L625,335.68 L626,336.28 L627,336.86 L628,337.42 L629,337.96 L630,338.48 L631,338.97 L632,339.45 L633,339.9 L634,340.34 L635,340.75 L636,341.15 L637,341.53 L638,341.89 L639,342.24 L640,342.57 L641,342.88 L642,343.18 L643,343.46 L644,343.73 L645,343.99 L646,344.23 L647,344.46 L648,344.67 L649,344.88 L650,345.07 L651,345.25 L652,345.43 L653,345.59 L654,345.74 L655,345.89 L656,346.02 L657,346.15 L658,346.27 L659,346.38 L660,346.49 L661,346.59 L662,346.68 L663,346.77 L664,346.85 L665,346.93 L666,347 L667,347.06 L668,347.13 L669,347.18 L670,347.24 L671,347.29 L672,347.33 L673,347.38 L674,347.42 L675,347.46 L676,347.49 L677,347.52 L678,347.55 L679,347.58 L680,347.61 L681,347.63 L682,347.65 L683,347.67 L684,347.69 L685,347.71 L686,347.72 L687,347.74 L688,347.75 L689,347.77 L690,347.78 L691,347.79 L692,347.8 L693,347.81 L694,347.82 L695,347.82 L696,347.83 L697,347.84 L698,347.84 L699,347.85 L700,347.86 L701,347.86 L702,347.86 L703,347.87 L704,347.87" fill="none" stroke="#05b5fb" stroke-width="1.4" stroke-dasharray="5.8 7.35"/>
<path d="M244,346.03 L245,346.03 L246,346.03 L247,346.02 L248,346.02 L249,346.02 L250,346.02 L251,346.02 L252,346.01 L253,346.01 L254,346.01 L255,346.01 L256,346.01 L257,346 L258,346 L259,346 L260,346 L261,346 L262,345.99 L263,345.99 L264,345.99 L265,345.99 L266,345.98 L267,345.98 L268,345.98 L269,345.98 L270,345.97 L271,345.97 L272,345.97 L273,345.97 L274,345.96 L275,345.96 L276,345.96 L277,345.95 L278,345.95 L279,345.95 L280,345.94 L281,345.94 L282,345.94 L283,345.94 L284,345.93 L285,345.93 L286,345.93 L287,345.92 L288,345.92 L289,345.92 L290,345.91 L291,345.91 L292,345.9 L293,345.9 L294,345.9 L295,345.89 L296,345.89 L297,345.89 L298,345.88 L299,345.88 L300,345.87 L301,345.87 L302,345.86 L303,345.86 L304,345.86 L305,345.85 L306,345.85 L307,345.84 L308,345.84 L309,345.83 L310,345.83 L311,345.82 L312,345.82 L313,345.81 L314,345.81 L315,345.8 L316,345.8 L317,345.79 L318,345.79 L319,345.78 L320,345.77 L321,345.77 L322,345.76 L323,345.76 L324,345.75 L325,345.74 L326,345.74 L327,345.73 L328,345.72 L329,345.72 L330,345.71 L331,345.7 L332,345.7 L333,345.69 L334,345.68 L335,345.68 L336,345.67 L337,345.66 L338,345.65 L339,345.64 L340,345.64 L341,345.63 L342,345.62 L343,345.61 L344,345.6 L345,345.59 L346,345.58 L347,345.57 L348,345.56 L349,345.55 L350,345.54 L351,345.53 L352,345.52 L353,345.51 L354,345.5 L355,345.49 L356,345.48 L357,345.47 L358,345.46 L359,345.45 L360,345.43 L361,345.42 L362,345.41 L363,345.4 L364,345.38 L365,345.37 L366,345.36 L367,345.34 L368,345.33 L369,345.31 L370,345.3 L371,345.28 L372,345.27 L373,345.25 L374,345.23 L375,345.22 L376,345.2 L377,345.18 L378,345.16 L379,345.14 L380,345.13 L381,345.11 L382,345.09 L383,345.07 L384,345.04 L385,345.02 L386,345 L387,344.98 L388,344.95 L389,344.93 L390,344.9 L391,344.88 L392,344.85 L393,344.82 L394,344.79 L395,344.76 L396,344.73 L397,344.7 L398,344.67 L399,344.63 L400,344.6 L401,344.57 L402,344.53 L403,344.5 L404,344.47 L405,344.43 L406,344.39 L407,344.35 L408,344.3 L409,344.26 L410,344.21 L411,344.16 L412,344.1 L413,344.04 L414,343.98 L415,343.92 L416,343.85 L417,343.78 L418,343.7 L419,343.62 L420,343.54 L421,343.45 L422,343.35 L423,343.25 L424,343.14 L425,343.03 L426,342.91 L427,342.78 L428,342.65 L429,342.5 L430,342.35 L431,342.2 L432,342.03 L433,341.85 L434,341.66 L435,341.47 L436,341.26 L437,341.04 L438,340.81 L439,340.57 L440,340.31 L441,340.05 L442,339.77 L443,339.47 L444,339.16 L445,338.84 L446,338.5 L447,338.15 L448,337.79 L449,337.4 L450,337.01 L451,336.59 L452,336.16 L453,335.71 L454,335.25 L455,334.77 L456,334.27 L457,333.76 L458,333.23 L459,332.69 L460,332.12 L461,331.55 L462,330.95 L463,330.34 L464,329.72 L465,329.08 L466,328.43 L467,327.77 L468,327.1 L469,326.41 L470,325.71 L471,325.01 L472,324.29 L473,323.57 L474,322.85 L475,322.12 L476,321.39 L477,320.65 L478,319.92 L479,319.2 L480,318.47 L481,317.76 L482,317.05 L483,316.36 L484,315.68 L485,315.02 L486,314.39 L487,313.77 L488,313.18 L489,312.62 L490,312.09 L491,311.59 L492,311.14 L493,310.72 L494,310.35 L495,310.02 L496,309.74 L497,309.51 L498,309.33 L499,309.2 L500,309.13 L501,309.11 L502,309.13 L503,309.18 L504,309.27 L505,309.38 L506,309.53 L507,309.7 L508,309.91 L509,310.14 L510,310.41 L511,310.7 L512,311.02 L513,311.36 L514,311.73 L515,312.13 L516,312.55 L517,312.99 L518,313.45 L519,313.94 L520,314.45 L521,314.97 L522,315.51 L523,316.07 L524,316.65 L525,317.24 L526,317.84 L527,318.45 L528,319.08 L529,319.71 L530,320.35 L531,321 L532,321.65 L533,322.31 L534,322.97 L535,323.64 L536,324.3 L537,324.97 L538,325.63 L539,326.3 L540,326.95 L541,327.61 L542,328.26 L543,328.9 L544,329.54 L545,330.17 L546,330.79 L547,331.41 L548,332.01 L549,332.61 L550,333.19 L551,333.76 L552,334.32 L553,334.87 L554,335.4 L555,335.93 L556,336.44 L557,336.93 L558,337.42 L559,337.89 L560,338.34 L561,338.78 L562,339.21 L563,339.63 L564,340.03 L565,340.41 L566,340.79 L567,341.15 L568,341.49 L569,341.83 L570,342.15 L571,342.45 L572,342.75 L573,343.03 L574,343.3 L575,343.56 L576,343.81 L577,344.04 L578,344.27 L579,344.48 L580,344.69 L581,344.88 L582,345.06 L583,345.24 L584,345.4 L585,345.56 L586,345.71 L587,345.85 L588,345.99 L589,346.11 L590,346.23 L591,346.34 L592,346.45 L593,346.55 L594,346.64 L595,346.73 L596,346.82 L597,346.9 L598,346.97 L599,347.04 L600,347.1 L601,347.16 L602,347.21 L603,347.26 L604,347.3 L605,347.35 L606,347.38 L607,347.42 L608,347.45 L609,347.48 L610,347.51 L611,347.54 L612,347.56 L613,347.59 L614,347.61 L615,347.63 L616,347.64 L617,347.66 L618,347.67 L619,347.69 L620,347.7 L621,347.71 L622,347.72 L623,347.73 L624,347.74 L625,347.75 L626,347.76 L627,347.77 L628,347.77 L629,347.78 L630,347.79 L631,347.79 L632,347.8 L633,347.8 L634,347.8 L635,347.81 L636,347.81 L637,347.82 L638,347.82 L639,347.82 L640,347.82 L641,347.83 L642,347.83 L643,347.83 L644,347.83 L645,347.84 L646,347.84 L647,347.84 L648,347.84 L649,347.84 L650,347.84 L651,347.85 L652,347.85 L653,347.85 L654,347.85 L655,347.85 L656,347.85 L657,347.85 L658,347.85 L659,347.86 L660,347.86 L661,347.86 L662,347.86 L663,347.86 L664,347.86 L665,347.86 L666,347.86 L667,347.86 L668,347.86 L669,347.87 L670,347.87 L671,347.87 L672,347.87 L673,347.87 L674,347.87 L675,347.87 L676,347.87 L677,347.87 L678,347.87 L679,347.88 L680,347.88 L681,347.88 L682,347.88 L683,347.88 L684,347.88 L685,347.88 L686,347.88 L687,347.88 L688,347.88 L689,347.89 L690,347.89 L691,347.89 L692,347.89 L693,347.89 L694,347.89 L695,347.89 L696,347.89 L697,347.89 L698,347.89 L699,347.9 L700,347.9 L701,347.9 L702,347.9 L703,347.9 L704,347.9" fill="none" stroke="#05b5fb" stroke-width="1.4" stroke-dasharray="5.8 7.35"/>
<path d="M244,346.33 L245,346.33 L246,346.33 L247,346.33 L248,346.33 L249,346.33 L250,346.33 L251,346.33 L252,346.33 L253,346.33 L254,346.33 L255,346.33 L256,346.33 L257,346.33 L258,346.33 L259,346.33 L260,346.33 L261,346.33 L262,346.33 L263,346.34 L264,346.34 L265,346.34 L266,346.34 L267,346.34 L268,346.34 L269,346.34 L270,346.34 L271,346.34 L272,346.34 L273,346.34 L274,346.34 L275,346.34 L276,346.34 L277,346.34 L278,346.34 L279,346.34 L280,346.34 L281,346.34 L282,346.34 L283,346.34 L284,346.34 L285,346.34 L286,346.34 L287,346.34 L288,346.34 L289,346.34 L290,346.34 L291,346.34 L292,346.34 L293,346.34 L294,346.34 L295,346.34 L296,346.34 L297,346.34 L298,346.34 L299,346.34 L300,346.34 L301,346.34 L302,346.34 L303,346.34 L304,346.34 L305,346.33 L306,346.33 L307,346.33 L308,346.33 L309,346.33 L310,346.32 L311,346.32 L312,346.32 L313,346.31 L314,346.31 L315,346.3 L316,346.3 L317,346.29 L318,346.29 L319,346.28 L320,346.28 L321,346.27 L322,346.26 L323,346.25 L324,346.24 L325,346.23 L326,346.22 L327,346.21 L328,346.2 L329,346.18 L330,346.17 L331,346.15 L332,346.13 L333,346.11 L334,346.09 L335,346.07 L336,346.05 L337,346.03 L338,346 L339,345.97 L340,345.94 L341,345.91 L342,345.88 L343,345.84 L344,345.8 L345,345.76 L346,345.72 L347,345.67 L348,345.62 L349,345.57 L350,345.51 L351,345.46 L352,345.4 L353,345.33 L354,345.26 L355,345.19 L356,345.12 L357,345.04 L358,344.96 L359,344.87 L360,344.78 L361,344.68 L362,344.58 L363,344.48 L364,344.37 L365,344.26 L366,344.14 L367,344.01 L368,343.89 L369,343.75 L370,343.61 L371,343.47 L372,343.32 L373,343.17 L374,343.01 L375,342.84 L376,342.67 L377,342.49 L378,342.31 L379,342.13 L380,341.93 L381,341.74 L382,341.53 L383,341.32 L384,341.11 L385,340.89 L386,340.67 L387,340.44 L388,340.21 L389,339.97 L390,339.73 L391,339.49 L392,339.24 L393,338.99 L394,338.73 L395,338.47 L396,338.21 L397,337.95 L398,337.68 L399,337.42 L400,337.15 L401,336.88 L402,336.62 L403,336.35 L404,336.09 L405,335.82 L406,335.56 L407,335.3 L408,335.04 L409,334.78 L410,334.52 L411,334.27 L412,334.02 L413,333.77 L414,333.53 L415,333.29 L416,333.06 L417,332.84 L418,332.62 L419,332.4 L420,332.2 L421,332 L422,331.81 L423,331.62 L424,331.45 L425,331.28 L426,331.13 L427,330.98 L428,330.85 L429,330.72 L430,330.61 L431,330.5 L432,330.41 L433,330.33 L434,330.25 L435,330.2 L436,330.15 L437,330.11 L438,330.09 L439,330.08 L440,330.08 L441,330.09 L442,330.12 L443,330.16 L444,330.22 L445,330.28 L446,330.36 L447,330.46 L448,330.56 L449,330.68 L450,330.81 L451,330.96 L452,331.11 L453,331.28 L454,331.45 L455,331.64 L456,331.84 L457,332.05 L458,332.26 L459,332.49 L460,332.72 L461,332.96 L462,333.21 L463,333.46 L464,333.73 L465,333.99 L466,334.26 L467,334.54 L468,334.82 L469,335.11 L470,335.39 L471,335.68 L472,335.97 L473,336.27 L474,336.56 L475,336.86 L476,337.15 L477,337.45 L478,337.74 L479,338.03 L480,338.32 L481,338.61 L482,338.89 L483,339.18 L484,339.46 L485,339.73 L486,340 L487,340.27 L488,340.53 L489,340.79 L490,341.05 L491,341.3 L492,341.54 L493,341.78 L494,342.01 L495,342.24 L496,342.46 L497,342.67 L498,342.88 L499,343.08 L500,343.28 L501,343.47 L502,343.66 L503,343.84 L504,344.01 L505,344.18 L506,344.34 L507,344.49 L508,344.64 L509,344.79 L510,344.92 L511,345.06 L512,345.18 L513,345.31 L514,345.42 L515,345.53 L516,345.64 L517,345.74 L518,345.84 L519,345.93 L520,346.02 L521,346.11 L522,346.19 L523,346.26 L524,346.34 L525,346.41 L526,346.47 L527,346.53 L528,346.59 L529,346.65 L530,346.7 L531,346.75 L532,346.8 L533,346.84 L534,346.89 L535,346.93 L536,346.97 L537,347 L538,347.04 L539,347.07 L540,347.1 L541,347.13 L542,347.16 L543,347.18 L544,347.21 L545,347.23 L546,347.25 L547,347.27 L548,347.29 L549,347.31 L550,347.33 L551,347.35 L552,347.36 L553,347.38 L554,347.4 L555,347.41 L556,347.42 L557,347.44 L558,347.45 L559,347.46 L560,347.47 L561,347.48 L562,347.5 L563,347.51 L564,347.52 L565,347.53 L566,347.54 L567,347.55 L568,347.56 L569,347.56 L570,347.57 L571,347.58 L572,347.59 L573,347.6 L574,347.61 L575,347.62 L576,347.62 L577,347.63 L578,347.64 L579,347.65 L580,347.65 L581,347.66 L582,347.67 L583,347.68 L584,347.68 L585,347.69 L586,347.7 L587,347.71 L588,347.71 L589,347.72 L590,347.73 L591,347.74 L592,347.74 L593,347.75 L594,347.76 L595,347.76 L596,347.77 L597,347.78 L598,347.79 L599,347.79 L600,347.8 L601,347.8 L602,347.8 L603,347.8 L604,347.8 L605,347.8 L606,347.81 L607,347.81 L608,347.81 L609,347.81 L610,347.81 L611,347.81 L612,347.81 L613,347.81 L614,347.81 L615,347.81 L616,347.82 L617,347.82 L618,347.82 L619,347.82 L620,347.82 L621,347.82 L622,347.82 L623,347.82 L624,347.82 L625,347.82 L626,347.82 L627,347.83 L628,347.83 L629,347.83 L630,347.83 L631,347.83 L632,347.83 L633,347.83 L634,347.83 L635,347.83 L636,347.83 L637,347.84 L638,347.84 L639,347.84 L640,347.84 L641,347.84 L642,347.84 L643,347.84 L644,347.84 L645,347.84 L646,347.84 L647,347.85 L648,347.85 L649,347.85 L650,347.85 L651,347.85 L652,347.85 L653,347.85 L654,347.85 L655,347.85 L656,347.85 L657,347.85 L658,347.86 L659,347.86 L660,347.86 L661,347.86 L662,347.86 L663,347.86 L664,347.86 L665,347.86 L666,347.86 L667,347.86 L668,347.87 L669,347.87 L670,347.87 L671,347.87 L672,347.87 L673,347.87 L674,347.87 L675,347.87 L676,347.87 L677,347.87 L678,347.87 L679,347.88 L680,347.88 L681,347.88 L682,347.88 L683,347.88 L684,347.88 L685,347.88 L686,347.88 L687,347.88 L688,347.88 L689,347.89 L690,347.89 L691,347.89 L692,347.89 L693,347.89 L694,347.89 L695,347.89 L696,347.89 L697,347.89 L698,347.89 L699,347.9 L700,347.9 L701,347.9 L702,347.9 L703,347.9 L704,347.9" fill="none" stroke="#05b5fb" stroke-width="1.4" stroke-dasharray="5.8 7.35"/>
<path d="M244,346.33 L245,346.33 L246,346.33 L247,346.33 L248,346.33 L249,346.33 L250,346.33 L251,346.33 L252,346.33 L253,346.33 L254,346.33 L255,346.33 L256,346.33 L257,346.33 L258,346.33 L259,346.33 L260,346.33 L261,346.33 L262,346.33 L263,346.34 L264,346.34 L265,346.34 L266,346.34 L267,346.34 L268,346.34 L269,346.34 L270,346.34 L271,346.34 L272,346.34 L273,346.34 L274,346.34 L275,346.34 L276,346.34 L277,346.34 L278,346.34 L279,346.34 L280,346.34 L281,346.34 L282,346.34 L283,346.34 L284,346.35 L285,346.35 L286,346.35 L287,346.35 L288,346.35 L289,346.35 L290,346.35 L291,346.35 L292,346.35 L293,346.35 L294,346.35 L295,346.35 L296,346.35 L297,346.35 L298,346.35 L299,346.35 L300,346.35 L301,346.35 L302,346.35 L303,346.35 L304,346.35 L305,346.36 L306,346.36 L307,346.36 L308,346.36 L309,346.36 L310,346.36 L311,346.36 L312,346.36 L313,346.36 L314,346.36 L315,346.36 L316,346.36 L317,346.36 L318,346.36 L319,346.36 L320,346.36 L321,346.36 L322,346.36 L323,346.36 L324,346.36 L325,346.36 L326,346.37 L327,346.37 L328,346.37 L329,346.37 L330,346.37 L331,346.37 L332,346.37 L333,346.37 L334,346.37 L335,346.37 L336,346.37 L337,346.37 L338,346.37 L339,346.37 L340,346.37 L341,346.37 L342,346.37 L343,346.37 L344,346.37 L345,346.37 L346,346.37 L347,346.38 L348,346.38 L349,346.38 L350,346.38 L351,346.38 L352,346.38 L353,346.38 L354,346.38 L355,346.38 L356,346.38 L357,346.38 L358,346.38 L359,346.38 L360,346.38 L361,346.38 L362,346.38 L363,346.38 L364,346.38 L365,346.38 L366,346.38 L367,346.38 L368,346.38 L369,346.39 L370,346.39 L371,346.39 L372,346.39 L373,346.39 L374,346.39 L375,346.39 L376,346.39 L377,346.39 L378,346.39 L379,346.39 L380,346.39 L381,346.39 L382,346.39 L383,346.39 L384,346.39 L385,346.39 L386,346.39 L387,346.39 L388,346.39 L389,346.39 L390,346.4 L391,346.4 L392,346.4 L393,346.4 L394,346.4 L395,346.4 L396,346.4 L397,346.4 L398,346.4 L399,346.4 L400,346.4 L401,346.41 L402,346.41 L403,346.42 L404,346.43 L405,346.44 L406,346.44 L407,346.45 L408,346.46 L409,346.46 L410,346.47 L411,346.48 L412,346.48 L413,346.49 L414,346.5 L415,346.5 L416,346.51 L417,346.52 L418,346.53 L419,346.53 L420,346.54 L421,346.55 L422,346.55 L423,346.56 L424,346.57 L425,346.57 L426,346.58 L427,346.59 L428,346.6 L429,346.6 L430,346.61 L431,346.62 L432,346.62 L433,346.63 L434,346.64 L435,346.64 L436,346.65 L437,346.66 L438,346.67 L439,346.67 L440,346.68 L441,346.69 L442,346.69 L443,346.7 L444,346.71 L445,346.71 L446,346.72 L447,346.73 L448,346.74 L449,346.74 L450,346.75 L451,346.76 L452,346.76 L453,346.77 L454,346.78 L455,346.78 L456,346.79 L457,346.8 L458,346.81 L459,346.81 L460,346.82 L461,346.83 L462,346.83 L463,346.84 L464,346.85 L465,346.85 L466,346.86 L467,346.87 L468,346.88 L469,346.88 L470,346.89 L471,346.9 L472,346.9 L473,346.91 L474,346.92 L475,346.93 L476,346.93 L477,346.94 L478,346.95 L479,346.95 L480,346.96 L481,346.97 L482,346.97 L483,346.98 L484,346.99 L485,347 L486,347 L487,347.01 L488,347.02 L489,347.02 L490,347.03 L491,347.04 L492,347.04 L493,347.05 L494,347.06 L495,347.06 L496,347.07 L497,347.08 L498,347.09 L499,347.09 L500,347.1 L501,347.11 L502,347.11 L503,347.12 L504,347.13 L505,347.13 L506,347.14 L507,347.15 L508,347.16 L509,347.16 L510,347.17 L511,347.18 L512,347.18 L513,347.19 L514,347.2 L515,347.2 L516,347.21 L517,347.22 L518,347.23 L519,347.23 L520,347.24 L521,347.25 L522,347.25 L523,347.26 L524,347.27 L525,347.27 L526,347.28 L527,347.29 L528,347.3 L529,347.3 L530,347.31 L531,347.32 L532,347.32 L533,347.33 L534,347.34 L535,347.35 L536,347.35 L537,347.36 L538,347.37 L539,347.37 L540,347.38 L541,347.39 L542,347.39 L543,347.4 L544,347.41 L545,347.42 L546,347.42 L547,347.43 L548,347.44 L549,347.44 L550,347.45 L551,347.46 L552,347.46 L553,347.47 L554,347.48 L555,347.49 L556,347.49 L557,347.5 L558,347.51 L559,347.51 L560,347.52 L561,347.53 L562,347.53 L563,347.54 L564,347.55 L565,347.56 L566,347.56 L567,347.57 L568,347.58 L569,347.58 L570,347.59 L571,347.6 L572,347.6 L573,347.61 L574,347.62 L575,347.62 L576,347.63 L577,347.64 L578,347.65 L579,347.65 L580,347.66 L581,347.67 L582,347.67 L583,347.68 L584,347.69 L585,347.69 L586,347.7 L587,347.71 L588,347.72 L589,347.72 L590,347.73 L591,347.74 L592,347.74 L593,347.75 L594,347.76 L595,347.76 L596,347.77 L597,347.78 L598,347.79 L599,347.79 L600,347.8 L601,347.8 L602,347.8 L603,347.8 L604,347.8 L605,347.8 L606,347.81 L607,347.81 L608,347.81 L609,347.81 L610,347.81 L611,347.81 L612,347.81 L613,347.81 L614,347.81 L615,347.81 L616,347.82 L617,347.82 L618,347.82 L619,347.82 L620,347.82 L621,347.82 L622,347.82 L623,347.82 L624,347.82 L625,347.82 L626,347.82 L627,347.83 L628,347.83 L629,347.83 L630,347.83 L631,347.83 L632,347.83 L633,347.83 L634,347.83 L635,347.83 L636,347.83 L637,347.84 L638,347.84 L639,347.84 L640,347.84 L641,347.84 L642,347.84 L643,347.84 L644,347.84 L645,347.84 L646,347.84 L647,347.85 L648,347.85 L649,347.85 L650,347.85 L651,347.85 L652,347.85 L653,347.85 L654,347.85 L655,347.85 L656,347.85 L657,347.85 L658,347.86 L659,347.86 L660,347.86 L661,347.86 L662,347.86 L663,347.86 L664,347.86 L665,347.86 L666,347.86 L667,347.86 L668,347.87 L669,347.87 L670,347.87 L671,347.87 L672,347.87 L673,347.87 L674,347.87 L675,347.87 L676,347.87 L677,347.87 L678,347.88 L679,347.88 L680,347.88 L681,347.88 L682,347.88 L683,347.88 L684,347.88 L685,347.88 L686,347.88 L687,347.88 L688,347.88 L689,347.89 L690,347.89 L691,347.89 L692,347.89 L693,347.89 L694,347.89 L695,347.89 L696,347.89 L697,347.89 L698,347.89 L699,347.9 L700,347.9 L701,347.9 L702,347.9 L703,347.9 L704,347.9" fill="none" stroke="#05b5fb" stroke-width="1.4" stroke-dasharray="5.8 7.35"/>
<circle cx="188" cy="342.5" r="4.05" fill="url(#gB)"/>
<circle cx="193.73" cy="346.3" r="4.05" fill="url(#gB)"/>
<circle cx="199.47" cy="343.9" r="4.05" fill="url(#gB)"/>
<circle cx="205.2" cy="346.3" r="4.05" fill="url(#gB)"/>
<circle cx="210.93" cy="343.9" r="4.05" fill="url(#gB)"/>
<circle cx="216.67" cy="345.4" r="4.05" fill="url(#gB)"/>
<circle cx="222.4" cy="350.9" r="4.05" fill="url(#gB)"/>
<circle cx="228.13" cy="339.9" r="4.05" fill="url(#gB)"/>
<circle cx="233.87" cy="346.3" r="4.05" fill="url(#gB)"/>
<circle cx="239.6" cy="345.4" r="4.05" fill="url(#gB)"/>
<circle cx="245.33" cy="345" r="4.05" fill="url(#gB)"/>
<circle cx="251.07" cy="342.5" r="4.05" fill="url(#gB)"/>
<circle cx="256.8" cy="344.1" r="4.05" fill="url(#gB)"/>
<circle cx="262.53" cy="340.3" r="4.05" fill="url(#gB)"/>
<circle cx="268.27" cy="341.8" r="4.05" fill="url(#gB)"/>
<circle cx="274" cy="346.8" r="4.05" fill="url(#gB)"/>
<circle cx="279.73" cy="344" r="4.05" fill="url(#gB)"/>
<circle cx="285.47" cy="343.7" r="4.05" fill="url(#gB)"/>
<circle cx="291.2" cy="341.1" r="4.05" fill="url(#gB)"/>
<circle cx="296.93" cy="344.4" r="4.05" fill="url(#gB)"/>
<circle cx="302.67" cy="338.9" r="4.05" fill="url(#gB)"/>
<circle cx="308.4" cy="341.5" r="4.05" fill="url(#gB)"/>
<circle cx="314.13" cy="339.7" r="4.05" fill="url(#gB)"/>
<circle cx="319.87" cy="335.8" r="4.05" fill="url(#gB)"/>
<circle cx="325.6" cy="334.7" r="4.05" fill="url(#gB)"/>
<circle cx="331.33" cy="334.1" r="4.05" fill="url(#gB)"/>
<circle cx="337.07" cy="335.5" r="4.05" fill="url(#gB)"/>
<circle cx="342.8" cy="335.7" r="4.05" fill="url(#gB)"/>
<circle cx="348.53" cy="339.7" r="4.05" fill="url(#gB)"/>
<circle cx="354.27" cy="338.2" r="4.05" fill="url(#gB)"/>
<circle cx="360" cy="337.3" r="4.05" fill="url(#gB)"/>
<circle cx="365.73" cy="333.5" r="4.05" fill="url(#gB)"/>
<circle cx="371.47" cy="335.1" r="4.05" fill="url(#gB)"/>
<circle cx="377.2" cy="337.9" r="4.05" fill="url(#gB)"/>
<circle cx="382.93" cy="336.2" r="4.05" fill="url(#gB)"/>
<circle cx="388.67" cy="330.2" r="4.05" fill="url(#gB)"/>
<circle cx="394.4" cy="332.4" r="4.05" fill="url(#gB)"/>
<circle cx="400.13" cy="333.2" r="4.05" fill="url(#gB)"/>
<circle cx="405.87" cy="326.5" r="4.05" fill="url(#gB)"/>
<circle cx="411.6" cy="326.9" r="4.05" fill="url(#gB)"/>
<circle cx="417.33" cy="326.6" r="4.05" fill="url(#gB)"/>
<circle cx="423.07" cy="328.3" r="4.05" fill="url(#gB)"/>
<circle cx="428.8" cy="323.1" r="4.05" fill="url(#gB)"/>
<circle cx="434.53" cy="322.7" r="4.05" fill="url(#gB)"/>
<circle cx="440.27" cy="322.4" r="4.05" fill="url(#gB)"/>
<circle cx="446" cy="324.9" r="4.05" fill="url(#gB)"/>
<circle cx="451.73" cy="312.2" r="4.05" fill="url(#gB)"/>
<circle cx="457.47" cy="309.1" r="4.05" fill="url(#gB)"/>
<circle cx="463.2" cy="309.5" r="4.05" fill="url(#gB)"/>
<circle cx="468.93" cy="300" r="4.05" fill="url(#gB)"/>
<circle cx="474.67" cy="300.6" r="4.05" fill="url(#gB)"/>
<circle cx="480.4" cy="296.7" r="4.05" fill="url(#gB)"/>
<circle cx="486.13" cy="290.5" r="4.05" fill="url(#gB)"/>
<circle cx="491.87" cy="286.6" r="4.05" fill="url(#gB)"/>
<circle cx="497.6" cy="277.7" r="4.05" fill="url(#gB)"/>
<circle cx="503.33" cy="271.7" r="4.05" fill="url(#gB)"/>
<circle cx="509.07" cy="271.1" r="4.05" fill="url(#gB)"/>
<circle cx="514.8" cy="262.7" r="4.05" fill="url(#gB)"/>
<circle cx="520.53" cy="256.3" r="4.05" fill="url(#gB)"/>
<circle cx="526.27" cy="260.9" r="4.05" fill="url(#gB)"/>
<circle cx="532" cy="254" r="4.05" fill="url(#gB)"/>
<circle cx="537.73" cy="255.3" r="4.05" fill="url(#gB)"/>
<circle cx="543.47" cy="249" r="4.05" fill="url(#gB)"/>
<circle cx="549.2" cy="256.6" r="4.05" fill="url(#gB)"/>
<circle cx="554.93" cy="264.2" r="4.05" fill="url(#gB)"/>
<circle cx="560.67" cy="269.2" r="4.05" fill="url(#gB)"/>
<circle cx="566.4" cy="278.1" r="4.05" fill="url(#gB)"/>
<circle cx="572.13" cy="277.1" r="4.05" fill="url(#gB)"/>
<circle cx="577.87" cy="286" r="4.05" fill="url(#gB)"/>
<circle cx="583.6" cy="291" r="4.05" fill="url(#gB)"/>
<circle cx="589.33" cy="299.2" r="4.05" fill="url(#gB)"/>
<circle cx="595.07" cy="309.1" r="4.05" fill="url(#gB)"/>
<circle cx="600.8" cy="319.5" r="4.05" fill="url(#gB)"/>
<circle cx="606.53" cy="317.2" r="4.05" fill="url(#gB)"/>
<circle cx="612.27" cy="328" r="4.05" fill="url(#gB)"/>
<circle cx="618" cy="331.8" r="4.05" fill="url(#gB)"/>
<circle cx="623.73" cy="340.2" r="4.05" fill="url(#gB)"/>
<circle cx="629.47" cy="339.2" r="4.05" fill="url(#gB)"/>
<circle cx="635.2" cy="341" r="4.05" fill="url(#gB)"/>
<circle cx="640.93" cy="341.8" r="4.05" fill="url(#gB)"/>
<circle cx="646.67" cy="345.9" r="4.05" fill="url(#gB)"/>
<circle cx="652.4" cy="347.2" r="4.05" fill="url(#gB)"/>
<circle cx="658.13" cy="342.7" r="4.05" fill="url(#gB)"/>
<circle cx="663.87" cy="342.3" r="4.05" fill="url(#gB)"/>
<circle cx="669.6" cy="342" r="4.05" fill="url(#gB)"/>
<circle cx="675.33" cy="343.6" r="4.05" fill="url(#gB)"/>
<circle cx="681.07" cy="343.3" r="4.05" fill="url(#gB)"/>
<circle cx="686.8" cy="345.3" r="4.05" fill="url(#gB)"/>
<circle cx="692.53" cy="348.5" r="4.05" fill="url(#gB)"/>
<circle cx="698.27" cy="349.8" r="4.05" fill="url(#gB)"/>
<circle cx="704" cy="346.6" r="4.05" fill="url(#gB)"/>
<path d="M188,339.8 L189,339.8 L190,339.8 L191,339.8 L192,339.8 L193,339.8 L194,339.8 L195,339.8 L196,339.8 L197,339.8 L198,339.79 L199,339.79 L200,339.79 L201,339.79 L202,339.79 L203,339.79 L204,339.78 L205,339.78 L206,339.78 L207,339.78 L208,339.78 L209,339.77 L210,339.77 L211,339.77 L212,339.77 L213,339.76 L214,339.76 L215,339.76 L216,339.75 L217,339.75 L218,339.75 L219,339.74 L220,339.74 L221,339.74 L222,339.73 L223,339.73 L224,339.73 L225,339.72 L226,339.72 L227,339.71 L228,339.71 L229,339.71 L230,339.7 L231,339.7 L232,339.69 L233,339.69 L234,339.68 L235,339.68 L236,339.67 L237,339.67 L238,339.66 L239,339.66 L240,339.65 L241,339.65 L242,339.64 L243,339.64 L244,339.63 L245,339.63 L246,339.62 L247,339.62 L248,339.61 L249,339.61 L250,339.6 L251,339.59 L252,339.59 L253,339.58 L254,339.57 L255,339.56 L256,339.55 L257,339.54 L258,339.53 L259,339.52 L260,339.5 L261,339.49 L262,339.48 L263,339.46 L264,339.45 L265,339.43 L266,339.41 L267,339.4 L268,339.38 L269,339.36 L270,339.34 L271,339.32 L272,339.3 L273,339.28 L274,339.25 L275,339.23 L276,339.21 L277,339.19 L278,339.16 L279,339.14 L280,339.11 L281,339.09 L282,339.06 L283,339.03 L284,339 L285,338.98 L286,338.95 L287,338.92 L288,338.89 L289,338.86 L290,338.83 L291,338.8 L292,338.77 L293,338.73 L294,338.7 L295,338.67 L296,338.64 L297,338.6 L298,338.57 L299,338.53 L300,338.5 L301,338.46 L302,338.42 L303,338.38 L304,338.33 L305,338.28 L306,338.22 L307,338.16 L308,338.1 L309,338.03 L310,337.97 L311,337.89 L312,337.82 L313,337.74 L314,337.67 L315,337.59 L316,337.5 L317,337.42 L318,337.33 L319,337.25 L320,337.16 L321,337.07 L322,336.98 L323,336.88 L324,336.79 L325,336.7 L326,336.6 L327,336.51 L328,336.41 L329,336.32 L330,336.22 L331,336.13 L332,336.03 L333,335.94 L334,335.84 L335,335.75 L336,335.66 L337,335.57 L338,335.48 L339,335.39 L340,335.3 L341,335.22 L342,335.14 L343,335.06 L344,334.98 L345,334.9 L346,334.82 L347,334.75 L348,334.67 L349,334.6 L350,334.52 L351,334.45 L352,334.37 L353,334.3 L354,334.23 L355,334.15 L356,334.08 L357,334 L358,333.92 L359,333.85 L360,333.77 L361,333.69 L362,333.61 L363,333.52 L364,333.44 L365,333.35 L366,333.26 L367,333.17 L368,333.08 L369,332.99 L370,332.89 L371,332.79 L372,332.7 L373,332.59 L374,332.49 L375,332.39 L376,332.29 L377,332.18 L378,332.07 L379,331.96 L380,331.86 L381,331.75 L382,331.64 L383,331.52 L384,331.41 L385,331.3 L386,331.19 L387,331.07 L388,330.96 L389,330.85 L390,330.74 L391,330.62 L392,330.51 L393,330.4 L394,330.28 L395,330.17 L396,330.05 L397,329.93 L398,329.81 L399,329.69 L400,329.57 L401,329.45 L402,329.32 L403,329.2 L404,329.07 L405,328.94 L406,328.81 L407,328.67 L408,328.54 L409,328.4 L410,328.25 L411,328.11 L412,327.96 L413,327.81 L414,327.66 L415,327.5 L416,327.34 L417,327.18 L418,327.02 L419,326.86 L420,326.7 L421,326.54 L422,326.37 L423,326.2 L424,326.03 L425,325.85 L426,325.67 L427,325.48 L428,325.29 L429,325.09 L430,324.88 L431,324.67 L432,324.44 L433,324.21 L434,323.97 L435,323.72 L436,323.46 L437,323.19 L438,322.9 L439,322.61 L440,322.3 L441,321.96 L442,321.58 L443,321.15 L444,320.68 L445,320.18 L446,319.65 L447,319.08 L448,318.5 L449,317.89 L450,317.26 L451,316.62 L452,315.97 L453,315.32 L454,314.66 L455,314 L456,313.32 L457,312.61 L458,311.86 L459,311.08 L460,310.28 L461,309.45 L462,308.62 L463,307.77 L464,306.92 L465,306.07 L466,305.22 L467,304.39 L468,303.56 L469,302.76 L470,301.97 L471,301.19 L472,300.41 L473,299.63 L474,298.85 L475,298.07 L476,297.28 L477,296.48 L478,295.67 L479,294.85 L480,294 L481,293.13 L482,292.24 L483,291.34 L484,290.41 L485,289.48 L486,288.53 L487,287.58 L488,286.62 L489,285.66 L490,284.7 L491,283.74 L492,282.79 L493,281.85 L494,280.92 L495,280 L496,279.09 L497,278.17 L498,277.25 L499,276.33 L500,275.41 L501,274.5 L502,273.59 L503,272.69 L504,271.8 L505,270.92 L506,270.05 L507,269.2 L508,268.37 L509,267.56 L510,266.76 L511,265.93 L512,265.09 L513,264.25 L514,263.4 L515,262.55 L516,261.71 L517,260.89 L518,260.08 L519,259.31 L520,258.56 L521,257.85 L522,257.19 L523,256.58 L524,256.02 L525,255.52 L526,255.09 L527,254.73 L528,254.4 L529,254.07 L530,253.75 L531,253.44 L532,253.13 L533,252.84 L534,252.57 L535,252.32 L536,252.08 L537,251.87 L538,251.68 L539,251.52 L540,251.39 L541,251.29 L542,251.23 L543,251.2 L544,251.23 L545,251.33 L546,251.49 L547,251.72 L548,251.99 L549,252.3 L550,252.64 L551,253 L552,253.48 L553,254.17 L554,255.02 L555,256.01 L556,257.1 L557,258.24 L558,259.41 L559,260.57 L560,261.67 L561,262.7 L562,263.67 L563,264.64 L564,265.6 L565,266.57 L566,267.55 L567,268.54 L568,269.56 L569,270.61 L570,271.71 L571,272.85 L572,274.04 L573,275.29 L574,276.58 L575,277.9 L576,279.26 L577,280.65 L578,282.05 L579,283.47 L580,284.91 L581,286.34 L582,287.77 L583,289.19 L584,290.6 L585,292 L586,293.41 L587,294.84 L588,296.29 L589,297.74 L590,299.2 L591,300.65 L592,302.09 L593,303.52 L594,304.93 L595,306.32 L596,307.68 L597,309 L598,310.3 L599,311.6 L600,312.89 L601,314.18 L602,315.44 L603,316.7 L604,317.93 L605,319.13 L606,320.31 L607,321.46 L608,322.58 L609,323.66 L610,324.7 L611,325.7 L612,326.7 L613,327.68 L614,328.64 L615,329.56 L616,330.45 L617,331.3 L618,332.09 L619,332.83 L620,333.5 L621,334.13 L622,334.74 L623,335.33 L624,335.9 L625,336.43 L626,336.93 L627,337.39 L628,337.81 L629,338.18 L630,338.5 L631,338.79 L632,339.07 L633,339.33 L634,339.58 L635,339.82 L636,340.05 L637,340.27 L638,340.47 L639,340.66 L640,340.83 L641,341 L642,341.14 L643,341.28 L644,341.4 L645,341.5 L646,341.59 L647,341.68 L648,341.77 L649,341.85 L650,341.93 L651,342.01 L652,342.08 L653,342.15 L654,342.22 L655,342.28 L656,342.34 L657,342.4 L658,342.45 L659,342.51 L660,342.56 L661,342.61 L662,342.66 L663,342.7 L664,342.75 L665,342.79 L666,342.84 L667,342.88 L668,342.92 L669,342.96 L670,343 L671,343.04 L672,343.08 L673,343.12 L674,343.16 L675,343.2 L676,343.24 L677,343.27 L678,343.31 L679,343.35 L680,343.38 L681,343.42 L682,343.46 L683,343.49 L684,343.52 L685,343.56 L686,343.59 L687,343.62 L688,343.65 L689,343.68 L690,343.71 L691,343.74 L692,343.77 L693,343.79 L694,343.82 L695,343.84 L696,343.86 L697,343.88 L698,343.9 L699,343.92 L700,343.94 L701,343.96 L702,343.97 L703,343.99 L704,344" fill="none" stroke="#05b5fb" stroke-width="1.5"/>
</g>
<g clip-path="url(#c3)">
<path d="M188,507.2 L189,507.2 L190,507.21 L191,507.21 L192,507.22 L193,507.22 L194,507.22 L195,507.23 L196,507.23 L197,507.23 L198,507.24 L199,507.24 L200,507.25 L201,507.25 L202,507.25 L203,507.26 L204,507.26 L205,507.26 L206,507.27 L207,507.27 L208,507.27 L209,507.28 L210,507.28 L211,507.28 L212,507.29 L213,507.29 L214,507.29 L215,507.3 L216,507.3 L217,507.3 L218,507.31 L219,507.31 L220,507.31 L221,507.32 L222,507.32 L223,507.32 L224,507.33 L225,507.33 L226,507.33 L227,507.34 L228,507.34 L229,507.34 L230,507.35 L231,507.35 L232,507.35 L233,507.35 L234,507.36 L235,507.36 L236,507.36 L237,507.37 L238,507.37 L239,507.37 L240,507.37 L241,507.38 L242,507.38 L243,507.38 L244,507.38 L245,507.39 L246,507.39 L247,507.39 L248,507.4 L249,507.4 L250,507.4 L251,507.4 L252,507.4 L253,507.41 L254,507.41 L255,507.41 L256,507.42 L257,507.42 L258,507.42 L259,507.42 L260,507.43 L261,507.43 L262,507.43 L263,507.43 L264,507.44 L265,507.44 L266,507.44 L267,507.44 L268,507.45 L269,507.45 L270,507.45 L271,507.46 L272,507.46 L273,507.46 L274,507.46 L275,507.47 L276,507.47 L277,507.47 L278,507.47 L279,507.47 L280,507.48 L281,507.48 L282,507.48 L283,507.48 L284,507.48 L285,507.49 L286,507.49 L287,507.49 L288,507.49 L289,507.49 L290,507.49 L291,507.49 L292,507.5 L293,507.5 L294,507.5 L295,507.5 L296,507.5 L297,507.5 L298,507.5 L299,507.5 L300,507.5 L301,507.5 L302,507.5 L303,507.49 L304,507.49 L305,507.48 L306,507.47 L307,507.46 L308,507.45 L309,507.44 L310,507.43 L311,507.42 L312,507.4 L313,507.39 L314,507.37 L315,507.35 L316,507.33 L317,507.32 L318,507.3 L319,507.28 L320,507.26 L321,507.24 L322,507.22 L323,507.19 L324,507.17 L325,507.15 L326,507.13 L327,507.11 L328,507.09 L329,507.06 L330,507.04 L331,507.02 L332,507 L333,506.98 L334,506.95 L335,506.92 L336,506.89 L337,506.86 L338,506.83 L339,506.8 L340,506.77 L341,506.74 L342,506.71 L343,506.69 L344,506.67 L345,506.66 L346,506.64 L347,506.63 L348,506.61 L349,506.6 L350,506.59 L351,506.57 L352,506.55 L353,506.53 L354,506.5 L355,506.46 L356,506.42 L357,506.36 L358,506.29 L359,506.21 L360,506.12 L361,506.03 L362,505.93 L363,505.83 L364,505.73 L365,505.63 L366,505.53 L367,505.41 L368,505.29 L369,505.16 L370,505.03 L371,504.89 L372,504.74 L373,504.59 L374,504.44 L375,504.28 L376,504.13 L377,503.97 L378,503.81 L379,503.64 L380,503.47 L381,503.29 L382,503.11 L383,502.93 L384,502.74 L385,502.56 L386,502.37 L387,502.18 L388,501.99 L389,501.81 L390,501.62 L391,501.43 L392,501.23 L393,501.04 L394,500.85 L395,500.65 L396,500.45 L397,500.26 L398,500.06 L399,499.87 L400,499.68 L401,499.49 L402,499.31 L403,499.13 L404,498.95 L405,498.77 L406,498.59 L407,498.41 L408,498.22 L409,498.03 L410,497.83 L411,497.62 L412,497.41 L413,497.19 L414,496.96 L415,496.73 L416,496.5 L417,496.25 L418,496.01 L419,495.75 L420,495.49 L421,495.22 L422,494.94 L423,494.66 L424,494.36 L425,494.05 L426,493.72 L427,493.39 L428,493.05 L429,492.7 L430,492.35 L431,491.99 L432,491.63 L433,491.26 L434,490.9 L435,490.53 L436,490.17 L437,489.79 L438,489.42 L439,489.03 L440,488.65 L441,488.25 L442,487.85 L443,487.45 L444,487.03 L445,486.61 L446,486.18 L447,485.75 L448,485.3 L449,484.85 L450,484.39 L451,483.93 L452,483.45 L453,482.96 L454,482.47 L455,481.97 L456,481.46 L457,480.94 L458,480.41 L459,479.88 L460,479.33 L461,478.77 L462,478.2 L463,477.62 L464,477.03 L465,476.43 L466,475.83 L467,475.21 L468,474.59 L469,473.96 L470,473.32 L471,472.67 L472,472 L473,471.33 L474,470.65 L475,469.96 L476,469.25 L477,468.54 L478,467.81 L479,467.07 L480,466.32 L481,465.56 L482,464.79 L483,464.01 L484,463.21 L485,462.41 L486,461.58 L487,460.75 L488,459.89 L489,459.03 L490,458.14 L491,457.24 L492,456.32 L493,455.37 L494,454.39 L495,453.39 L496,452.36 L497,451.32 L498,450.26 L499,449.19 L500,448.12 L501,447.05 L502,445.98 L503,444.92 L504,443.86 L505,442.79 L506,441.71 L507,440.63 L508,439.56 L509,438.51 L510,437.48 L511,436.46 L512,435.45 L513,434.46 L514,433.48 L515,432.51 L516,431.53 L517,430.54 L518,429.57 L519,428.64 L520,427.77 L521,426.97 L522,426.22 L523,425.52 L524,424.85 L525,424.21 L526,423.6 L527,423 L528,422.4 L529,421.81 L530,421.26 L531,420.75 L532,420.31 L533,419.94 L534,419.55 L535,419.19 L536,418.89 L537,418.68 L538,418.6 L539,418.72 L540,419.05 L541,419.52 L542,420.1 L543,420.71 L544,421.32 L545,422.02 L546,422.84 L547,423.75 L548,424.71 L549,425.7 L550,426.7 L551,427.75 L552,428.85 L553,430.01 L554,431.23 L555,432.53 L556,433.96 L557,435.52 L558,437.16 L559,438.85 L560,440.54 L561,442.19 L562,443.85 L563,445.52 L564,447.2 L565,448.89 L566,450.58 L567,452.28 L568,453.97 L569,455.66 L570,457.36 L571,459.08 L572,460.82 L573,462.59 L574,464.42 L575,466.28 L576,468.14 L577,469.98 L578,471.78 L579,473.55 L580,475.32 L581,477.07 L582,478.77 L583,480.41 L584,481.96 L585,483.46 L586,484.91 L587,486.31 L588,487.65 L589,488.91 L590,490.1 L591,491.22 L592,492.27 L593,493.29 L594,494.29 L595,495.3 L596,496.32 L597,497.37 L598,498.42 L599,499.42 L600,500.34 L601,501.15 L602,501.87 L603,502.54 L604,503.17 L605,503.75 L606,504.31 L607,504.85 L608,505.39 L609,505.9 L610,506.39 L611,506.85 L612,507.25 L613,507.61 L614,507.93 L615,508.22 L616,508.49 L617,508.75 L618,509 L619,509.24 L620,509.48 L621,509.71 L622,509.92 L623,510.1 L624,510.26 L625,510.4 L626,510.52 L627,510.64 L628,510.75 L629,510.84 L630,510.94 L631,511.03 L632,511.12 L633,511.2 L634,511.27 L635,511.31 L636,511.34 L637,511.36 L638,511.39 L639,511.41 L640,511.43 L641,511.45 L642,511.47 L643,511.49 L644,511.5 L645,511.52 L646,511.53 L647,511.54 L648,511.55 L649,511.57 L650,511.58 L651,511.59 L652,511.6 L653,511.61 L654,511.62 L655,511.63 L656,511.65 L657,511.66 L658,511.67 L659,511.68 L660,511.69 L661,511.7 L662,511.71 L663,511.72 L664,511.73 L665,511.75 L666,511.76 L667,511.77 L668,511.78 L669,511.79 L670,511.8 L671,511.81 L672,511.82 L673,511.83 L674,511.84 L675,511.85 L676,511.85 L677,511.86 L678,511.87 L679,511.88 L680,511.89 L681,511.9 L682,511.9 L683,511.91 L684,511.92 L685,511.93 L686,511.93 L687,511.94 L688,511.95 L689,511.95 L690,511.96 L691,511.96 L692,511.97 L693,511.97 L694,511.98 L695,511.98 L696,511.98 L697,511.99 L698,511.99 L699,511.99 L700,512 L701,512 L702,512 L703,512 L704,512" fill="none" stroke="#ff2d00" stroke-width="1.3"/>
<path d="M242,508.14 L243,508.14 L244,508.14 L245,508.14 L246,508.13 L247,508.13 L248,508.13 L249,508.13 L250,508.13 L251,508.13 L252,508.13 L253,508.12 L254,508.12 L255,508.12 L256,508.12 L257,508.12 L258,508.12 L259,508.12 L260,508.11 L261,508.11 L262,508.11 L263,508.11 L264,508.11 L265,508.1 L266,508.1 L267,508.1 L268,508.1 L269,508.1 L270,508.1 L271,508.09 L272,508.09 L273,508.09 L274,508.09 L275,508.09 L276,508.08 L277,508.08 L278,508.08 L279,508.08 L280,508.07 L281,508.07 L282,508.07 L283,508.07 L284,508.07 L285,508.06 L286,508.06 L287,508.06 L288,508.06 L289,508.05 L290,508.05 L291,508.05 L292,508.05 L293,508.04 L294,508.04 L295,508.04 L296,508.04 L297,508.03 L298,508.03 L299,508.03 L300,508.02 L301,508.02 L302,508.02 L303,508.02 L304,508.01 L305,508.01 L306,508.01 L307,508 L308,508 L309,508 L310,507.99 L311,507.99 L312,507.99 L313,507.98 L314,507.98 L315,507.98 L316,507.97 L317,507.97 L318,507.97 L319,507.96 L320,507.96 L321,507.95 L322,507.95 L323,507.95 L324,507.94 L325,507.94 L326,507.93 L327,507.93 L328,507.93 L329,507.92 L330,507.92 L331,507.91 L332,507.91 L333,507.9 L334,507.9 L335,507.89 L336,507.89 L337,507.88 L338,507.88 L339,507.87 L340,507.87 L341,507.86 L342,507.86 L343,507.85 L344,507.85 L345,507.84 L346,507.84 L347,507.83 L348,507.83 L349,507.82 L350,507.81 L351,507.81 L352,507.8 L353,507.8 L354,507.79 L355,507.78 L356,507.78 L357,507.77 L358,507.76 L359,507.76 L360,507.75 L361,507.74 L362,507.74 L363,507.73 L364,507.72 L365,507.71 L366,507.71 L367,507.7 L368,507.69 L369,507.68 L370,507.67 L371,507.67 L372,507.66 L373,507.65 L374,507.64 L375,507.63 L376,507.62 L377,507.61 L378,507.6 L379,507.59 L380,507.58 L381,507.58 L382,507.57 L383,507.56 L384,507.55 L385,507.55 L386,507.54 L387,507.53 L388,507.52 L389,507.51 L390,507.5 L391,507.5 L392,507.49 L393,507.48 L394,507.47 L395,507.46 L396,507.45 L397,507.44 L398,507.43 L399,507.41 L400,507.4 L401,507.39 L402,507.38 L403,507.37 L404,507.35 L405,507.34 L406,507.33 L407,507.31 L408,507.3 L409,507.28 L410,507.27 L411,507.25 L412,507.24 L413,507.22 L414,507.2 L415,507.19 L416,507.17 L417,507.15 L418,507.13 L419,507.11 L420,507.09 L421,507.07 L422,507.04 L423,507.02 L424,507 L425,506.97 L426,506.94 L427,506.92 L428,506.89 L429,506.86 L430,506.83 L431,506.79 L432,506.76 L433,506.72 L434,506.68 L435,506.64 L436,506.6 L437,506.56 L438,506.51 L439,506.46 L440,506.41 L441,506.35 L442,506.3 L443,506.23 L444,506.17 L445,506.1 L446,506.03 L447,505.95 L448,505.87 L449,505.78 L450,505.69 L451,505.59 L452,505.49 L453,505.38 L454,505.26 L455,505.14 L456,505.01 L457,504.87 L458,504.72 L459,504.57 L460,504.4 L461,504.23 L462,504.04 L463,503.85 L464,503.64 L465,503.42 L466,503.19 L467,502.95 L468,502.69 L469,502.41 L470,502.13 L471,501.84 L472,501.53 L473,501.21 L474,500.87 L475,500.51 L476,500.13 L477,499.73 L478,499.32 L479,498.88 L480,498.42 L481,497.94 L482,497.44 L483,496.91 L484,496.36 L485,495.79 L486,495.19 L487,494.56 L488,493.91 L489,493.24 L490,492.54 L491,491.81 L492,491.06 L493,490.28 L494,489.47 L495,488.64 L496,487.78 L497,486.89 L498,485.98 L499,485.04 L500,484.07 L501,483.1 L502,482.1 L503,481.08 L504,480.03 L505,478.96 L506,477.87 L507,476.76 L508,475.63 L509,474.48 L510,473.31 L511,472.13 L512,470.93 L513,469.72 L514,468.49 L515,467.26 L516,466.02 L517,464.78 L518,463.53 L519,462.28 L520,461.03 L521,459.79 L522,458.55 L523,457.32 L524,456.1 L525,454.9 L526,453.71 L527,452.54 L528,451.39 L529,450.28 L530,449.18 L531,448.13 L532,447.1 L533,446.12 L534,445.17 L535,444.28 L536,443.42 L537,442.63 L538,441.88 L539,441.19 L540,440.56 L541,439.99 L542,439.49 L543,439.06 L544,438.69 L545,438.39 L546,438.16 L547,438 L548,437.91 L549,437.9 L550,437.98 L551,438.18 L552,438.48 L553,438.9 L554,439.42 L555,440.05 L556,440.78 L557,441.61 L558,442.53 L559,443.54 L560,444.64 L561,445.82 L562,447.07 L563,448.39 L564,449.77 L565,451.21 L566,452.7 L567,454.24 L568,455.81 L569,457.42 L570,459.06 L571,460.72 L572,462.4 L573,464.08 L574,465.78 L575,467.47 L576,469.17 L577,470.85 L578,472.52 L579,474.18 L580,475.81 L581,477.42 L582,479.01 L583,480.56 L584,482.08 L585,483.56 L586,485.01 L587,486.42 L588,487.78 L589,489.1 L590,490.38 L591,491.62 L592,492.81 L593,493.95 L594,495.05 L595,496.1 L596,497.1 L597,498.06 L598,498.97 L599,499.84 L600,500.67 L601,501.44 L602,502.16 L603,502.85 L604,503.49 L605,504.1 L606,504.67 L607,505.21 L608,505.71 L609,506.18 L610,506.62 L611,507.03 L612,507.41 L613,507.77 L614,508.1 L615,508.41 L616,508.69 L617,508.96 L618,509.2 L619,509.43 L620,509.64 L621,509.83 L622,510.01 L623,510.17 L624,510.32 L625,510.46 L626,510.59 L627,510.71 L628,510.82 L629,510.92 L630,511.01 L631,511.1 L632,511.18 L633,511.25 L634,511.32 L635,511.38 L636,511.44 L637,511.49 L638,511.54 L639,511.59 L640,511.63 L641,511.67 L642,511.71 L643,511.75 L644,511.78 L645,511.81 L646,511.84 L647,511.87 L648,511.9 L649,511.93 L650,511.95 L651,511.97 L652,511.99 L653,512 L654,512.02 L655,512.03 L656,512.05 L657,512.06 L658,512.07 L659,512.08 L660,512.1 L661,512.11 L662,512.12 L663,512.13 L664,512.14 L665,512.15 L666,512.16 L667,512.17 L668,512.18 L669,512.19 L670,512.2 L671,512.21 L672,512.21 L673,512.22 L674,512.23 L675,512.24 L676,512.25 L677,512.25 L678,512.26 L679,512.27 L680,512.28 L681,512.28 L682,512.29 L683,512.3 L684,512.31 L685,512.31 L686,512.32 L687,512.33 L688,512.33 L689,512.34 L690,512.35 L691,512.35 L692,512.36 L693,512.36 L694,512.37 L695,512.38 L696,512.38 L697,512.39 L698,512.39 L699,512.4 L700,512.4 L701,512.41 L702,512.42 L703,512.42 L704,512.43" fill="none" stroke="#ff2d00" stroke-width="1.4" stroke-dasharray="6.2 6.9"/>
<path d="M242,508.43 L243,508.43 L244,508.43 L245,508.43 L246,508.43 L247,508.43 L248,508.43 L249,508.43 L250,508.43 L251,508.43 L252,508.43 L253,508.43 L254,508.43 L255,508.43 L256,508.44 L257,508.44 L258,508.44 L259,508.44 L260,508.44 L261,508.44 L262,508.44 L263,508.44 L264,508.44 L265,508.44 L266,508.44 L267,508.44 L268,508.44 L269,508.44 L270,508.44 L271,508.44 L272,508.44 L273,508.44 L274,508.44 L275,508.45 L276,508.45 L277,508.45 L278,508.45 L279,508.45 L280,508.45 L281,508.45 L282,508.45 L283,508.45 L284,508.45 L285,508.45 L286,508.45 L287,508.45 L288,508.45 L289,508.45 L290,508.45 L291,508.45 L292,508.45 L293,508.45 L294,508.46 L295,508.46 L296,508.46 L297,508.46 L298,508.46 L299,508.46 L300,508.46 L301,508.46 L302,508.46 L303,508.46 L304,508.46 L305,508.46 L306,508.46 L307,508.46 L308,508.46 L309,508.46 L310,508.46 L311,508.46 L312,508.46 L313,508.47 L314,508.47 L315,508.47 L316,508.47 L317,508.47 L318,508.47 L319,508.47 L320,508.47 L321,508.47 L322,508.47 L323,508.47 L324,508.47 L325,508.47 L326,508.47 L327,508.47 L328,508.47 L329,508.47 L330,508.47 L331,508.47 L332,508.47 L333,508.48 L334,508.48 L335,508.48 L336,508.48 L337,508.48 L338,508.48 L339,508.48 L340,508.48 L341,508.48 L342,508.48 L343,508.48 L344,508.48 L345,508.48 L346,508.48 L347,508.48 L348,508.48 L349,508.48 L350,508.48 L351,508.48 L352,508.48 L353,508.48 L354,508.48 L355,508.48 L356,508.48 L357,508.48 L358,508.48 L359,508.48 L360,508.48 L361,508.48 L362,508.48 L363,508.48 L364,508.48 L365,508.48 L366,508.47 L367,508.47 L368,508.47 L369,508.47 L370,508.47 L371,508.46 L372,508.46 L373,508.46 L374,508.45 L375,508.45 L376,508.45 L377,508.44 L378,508.43 L379,508.43 L380,508.42 L381,508.41 L382,508.41 L383,508.4 L384,508.39 L385,508.39 L386,508.38 L387,508.36 L388,508.35 L389,508.34 L390,508.32 L391,508.3 L392,508.29 L393,508.26 L394,508.24 L395,508.22 L396,508.19 L397,508.16 L398,508.12 L399,508.09 L400,508.05 L401,508.01 L402,507.96 L403,507.91 L404,507.86 L405,507.8 L406,507.74 L407,507.67 L408,507.6 L409,507.53 L410,507.44 L411,507.36 L412,507.26 L413,507.16 L414,507.05 L415,506.94 L416,506.82 L417,506.69 L418,506.55 L419,506.41 L420,506.25 L421,506.09 L422,505.91 L423,505.73 L424,505.54 L425,505.34 L426,505.12 L427,504.9 L428,504.66 L429,504.41 L430,504.15 L431,503.88 L432,503.6 L433,503.3 L434,502.99 L435,502.67 L436,502.33 L437,501.98 L438,501.61 L439,501.24 L440,500.84 L441,500.44 L442,500.02 L443,499.58 L444,499.14 L445,498.67 L446,498.2 L447,497.71 L448,497.2 L449,496.69 L450,496.16 L451,495.62 L452,495.06 L453,494.5 L454,493.92 L455,493.33 L456,492.74 L457,492.13 L458,491.51 L459,490.89 L460,490.26 L461,489.62 L462,488.98 L463,488.33 L464,487.68 L465,487.03 L466,486.37 L467,485.72 L468,485.06 L469,484.41 L470,483.76 L471,483.12 L472,482.49 L473,481.87 L474,481.26 L475,480.65 L476,480.06 L477,479.48 L478,478.91 L479,478.35 L480,477.81 L481,477.28 L482,476.78 L483,476.29 L484,475.82 L485,475.37 L486,474.95 L487,474.55 L488,474.17 L489,473.82 L490,473.49 L491,473.19 L492,472.92 L493,472.68 L494,472.46 L495,472.28 L496,472.13 L497,472 L498,471.91 L499,471.85 L500,471.82 L501,471.83 L502,471.89 L503,471.98 L504,472.12 L505,472.3 L506,472.52 L507,472.78 L508,473.07 L509,473.41 L510,473.78 L511,474.19 L512,474.64 L513,475.12 L514,475.63 L515,476.17 L516,476.74 L517,477.34 L518,477.96 L519,478.61 L520,479.28 L521,479.97 L522,480.68 L523,481.41 L524,482.15 L525,482.9 L526,483.67 L527,484.44 L528,485.22 L529,486.01 L530,486.8 L531,487.59 L532,488.38 L533,489.17 L534,489.96 L535,490.74 L536,491.51 L537,492.28 L538,493.04 L539,493.79 L540,494.52 L541,495.25 L542,495.96 L543,496.66 L544,497.34 L545,498.01 L546,498.65 L547,499.28 L548,499.88 L549,500.48 L550,501.05 L551,501.6 L552,502.14 L553,502.65 L554,503.15 L555,503.63 L556,504.09 L557,504.54 L558,504.96 L559,505.37 L560,505.76 L561,506.13 L562,506.49 L563,506.83 L564,507.15 L565,507.46 L566,507.75 L567,508.03 L568,508.29 L569,508.54 L570,508.77 L571,509 L572,509.21 L573,509.41 L574,509.6 L575,509.77 L576,509.94 L577,510.1 L578,510.25 L579,510.39 L580,510.52 L581,510.65 L582,510.76 L583,510.87 L584,510.98 L585,511.07 L586,511.17 L587,511.25 L588,511.34 L589,511.41 L590,511.49 L591,511.55 L592,511.62 L593,511.68 L594,511.74 L595,511.8 L596,511.85 L597,511.9 L598,511.95 L599,511.99 L600,512.04 L601,512.06 L602,512.09 L603,512.11 L604,512.13 L605,512.15 L606,512.17 L607,512.18 L608,512.2 L609,512.21 L610,512.23 L611,512.24 L612,512.26 L613,512.27 L614,512.28 L615,512.29 L616,512.3 L617,512.31 L618,512.33 L619,512.34 L620,512.35 L621,512.36 L622,512.36 L623,512.37 L624,512.38 L625,512.39 L626,512.4 L627,512.41 L628,512.42 L629,512.43 L630,512.44 L631,512.44 L632,512.45 L633,512.46 L634,512.47 L635,512.48 L636,512.49 L637,512.49 L638,512.5 L639,512.51 L640,512.52 L641,512.53 L642,512.54 L643,512.54 L644,512.55 L645,512.56 L646,512.57 L647,512.58 L648,512.58 L649,512.59 L650,512.6 L651,512.6 L652,512.6 L653,512.61 L654,512.61 L655,512.61 L656,512.61 L657,512.61 L658,512.61 L659,512.62 L660,512.62 L661,512.62 L662,512.62 L663,512.62 L664,512.63 L665,512.63 L666,512.63 L667,512.63 L668,512.63 L669,512.64 L670,512.64 L671,512.64 L672,512.64 L673,512.64 L674,512.64 L675,512.65 L676,512.65 L677,512.65 L678,512.65 L679,512.65 L680,512.66 L681,512.66 L682,512.66 L683,512.66 L684,512.66 L685,512.66 L686,512.67 L687,512.67 L688,512.67 L689,512.67 L690,512.67 L691,512.68 L692,512.68 L693,512.68 L694,512.68 L695,512.68 L696,512.69 L697,512.69 L698,512.69 L699,512.69 L700,512.69 L701,512.69 L702,512.7 L703,512.7 L704,512.7" fill="none" stroke="#ff2d00" stroke-width="1.4" stroke-dasharray="6.2 6.9"/>
<path d="M242,508.43 L243,508.43 L244,508.43 L245,508.43 L246,508.43 L247,508.43 L248,508.43 L249,508.43 L250,508.43 L251,508.43 L252,508.43 L253,508.43 L254,508.43 L255,508.43 L256,508.44 L257,508.44 L258,508.44 L259,508.44 L260,508.44 L261,508.44 L262,508.44 L263,508.44 L264,508.44 L265,508.44 L266,508.44 L267,508.44 L268,508.44 L269,508.44 L270,508.44 L271,508.44 L272,508.44 L273,508.44 L274,508.44 L275,508.45 L276,508.45 L277,508.45 L278,508.45 L279,508.45 L280,508.45 L281,508.45 L282,508.45 L283,508.45 L284,508.45 L285,508.45 L286,508.45 L287,508.45 L288,508.45 L289,508.45 L290,508.45 L291,508.45 L292,508.45 L293,508.45 L294,508.46 L295,508.46 L296,508.46 L297,508.46 L298,508.46 L299,508.46 L300,508.46 L301,508.46 L302,508.46 L303,508.46 L304,508.46 L305,508.46 L306,508.46 L307,508.46 L308,508.46 L309,508.46 L310,508.46 L311,508.46 L312,508.46 L313,508.46 L314,508.47 L315,508.47 L316,508.47 L317,508.47 L318,508.47 L319,508.47 L320,508.47 L321,508.47 L322,508.47 L323,508.47 L324,508.47 L325,508.47 L326,508.47 L327,508.47 L328,508.47 L329,508.47 L330,508.47 L331,508.47 L332,508.47 L333,508.47 L334,508.47 L335,508.47 L336,508.47 L337,508.47 L338,508.47 L339,508.47 L340,508.47 L341,508.47 L342,508.47 L343,508.46 L344,508.46 L345,508.46 L346,508.46 L347,508.45 L348,508.45 L349,508.45 L350,508.44 L351,508.44 L352,508.43 L353,508.42 L354,508.42 L355,508.41 L356,508.4 L357,508.39 L358,508.38 L359,508.37 L360,508.35 L361,508.34 L362,508.32 L363,508.3 L364,508.28 L365,508.26 L366,508.24 L367,508.21 L368,508.18 L369,508.15 L370,508.11 L371,508.08 L372,508.03 L373,507.99 L374,507.94 L375,507.89 L376,507.84 L377,507.78 L378,507.71 L379,507.64 L380,507.57 L381,507.49 L382,507.41 L383,507.33 L384,507.23 L385,507.14 L386,507.03 L387,506.92 L388,506.8 L389,506.68 L390,506.55 L391,506.42 L392,506.27 L393,506.13 L394,505.97 L395,505.81 L396,505.64 L397,505.46 L398,505.28 L399,505.09 L400,504.9 L401,504.69 L402,504.49 L403,504.28 L404,504.06 L405,503.84 L406,503.61 L407,503.38 L408,503.14 L409,502.91 L410,502.67 L411,502.42 L412,502.18 L413,501.94 L414,501.69 L415,501.45 L416,501.21 L417,500.97 L418,500.73 L419,500.5 L420,500.27 L421,500.05 L422,499.83 L423,499.62 L424,499.42 L425,499.22 L426,499.04 L427,498.86 L428,498.69 L429,498.54 L430,498.4 L431,498.26 L432,498.15 L433,498.04 L434,497.95 L435,497.87 L436,497.81 L437,497.76 L438,497.72 L439,497.7 L440,497.7 L441,497.71 L442,497.74 L443,497.78 L444,497.83 L445,497.9 L446,497.99 L447,498.09 L448,498.2 L449,498.32 L450,498.46 L451,498.61 L452,498.77 L453,498.95 L454,499.13 L455,499.32 L456,499.52 L457,499.73 L458,499.95 L459,500.18 L460,500.41 L461,500.64 L462,500.88 L463,501.12 L464,501.37 L465,501.62 L466,501.87 L467,502.12 L468,502.37 L469,502.62 L470,502.87 L471,503.13 L472,503.38 L473,503.64 L474,503.89 L475,504.14 L476,504.38 L477,504.62 L478,504.85 L479,505.07 L480,505.3 L481,505.51 L482,505.72 L483,505.92 L484,506.12 L485,506.31 L486,506.49 L487,506.67 L488,506.83 L489,507 L490,507.15 L491,507.3 L492,507.44 L493,507.58 L494,507.71 L495,507.84 L496,507.95 L497,508.07 L498,508.17 L499,508.27 L500,508.37 L501,508.48 L502,508.58 L503,508.68 L504,508.77 L505,508.86 L506,508.95 L507,509.03 L508,509.11 L509,509.18 L510,509.25 L511,509.32 L512,509.39 L513,509.45 L514,509.51 L515,509.57 L516,509.62 L517,509.68 L518,509.73 L519,509.78 L520,509.83 L521,509.88 L522,509.92 L523,509.97 L524,510.01 L525,510.06 L526,510.1 L527,510.14 L528,510.18 L529,510.22 L530,510.26 L531,510.3 L532,510.33 L533,510.37 L534,510.41 L535,510.44 L536,510.48 L537,510.52 L538,510.55 L539,510.59 L540,510.62 L541,510.66 L542,510.69 L543,510.73 L544,510.76 L545,510.79 L546,510.82 L547,510.85 L548,510.87 L549,510.9 L550,510.92 L551,510.95 L552,510.98 L553,511 L554,511.03 L555,511.05 L556,511.08 L557,511.1 L558,511.13 L559,511.16 L560,511.18 L561,511.21 L562,511.23 L563,511.26 L564,511.28 L565,511.31 L566,511.33 L567,511.36 L568,511.39 L569,511.41 L570,511.44 L571,511.46 L572,511.49 L573,511.51 L574,511.54 L575,511.56 L576,511.59 L577,511.61 L578,511.64 L579,511.67 L580,511.69 L581,511.72 L582,511.74 L583,511.77 L584,511.79 L585,511.82 L586,511.84 L587,511.87 L588,511.89 L589,511.92 L590,511.95 L591,511.97 L592,512 L593,512.02 L594,512.05 L595,512.07 L596,512.1 L597,512.12 L598,512.15 L599,512.17 L600,512.2 L601,512.21 L602,512.22 L603,512.22 L604,512.23 L605,512.24 L606,512.25 L607,512.26 L608,512.26 L609,512.27 L610,512.28 L611,512.29 L612,512.3 L613,512.3 L614,512.31 L615,512.32 L616,512.33 L617,512.34 L618,512.34 L619,512.35 L620,512.36 L621,512.37 L622,512.38 L623,512.38 L624,512.39 L625,512.4 L626,512.41 L627,512.42 L628,512.42 L629,512.43 L630,512.44 L631,512.45 L632,512.46 L633,512.46 L634,512.47 L635,512.48 L636,512.49 L637,512.5 L638,512.5 L639,512.51 L640,512.52 L641,512.53 L642,512.54 L643,512.54 L644,512.55 L645,512.56 L646,512.57 L647,512.58 L648,512.58 L649,512.59 L650,512.6 L651,512.6 L652,512.6 L653,512.61 L654,512.61 L655,512.61 L656,512.61 L657,512.61 L658,512.61 L659,512.62 L660,512.62 L661,512.62 L662,512.62 L663,512.62 L664,512.63 L665,512.63 L666,512.63 L667,512.63 L668,512.63 L669,512.64 L670,512.64 L671,512.64 L672,512.64 L673,512.64 L674,512.64 L675,512.65 L676,512.65 L677,512.65 L678,512.65 L679,512.65 L680,512.66 L681,512.66 L682,512.66 L683,512.66 L684,512.66 L685,512.66 L686,512.67 L687,512.67 L688,512.67 L689,512.67 L690,512.67 L691,512.68 L692,512.68 L693,512.68 L694,512.68 L695,512.68 L696,512.69 L697,512.69 L698,512.69 L699,512.69 L700,512.69 L701,512.69 L702,512.7 L703,512.7 L704,512.7" fill="none" stroke="#ff2d00" stroke-width="1.4" stroke-dasharray="6.2 6.9"/>
<path d="M242,508.43 L243,508.43 L244,508.43 L245,508.43 L246,508.43 L247,508.43 L248,508.43 L249,508.43 L250,508.43 L251,508.43 L252,508.43 L253,508.43 L254,508.43 L255,508.43 L256,508.44 L257,508.44 L258,508.44 L259,508.44 L260,508.44 L261,508.44 L262,508.44 L263,508.44 L264,508.44 L265,508.44 L266,508.44 L267,508.44 L268,508.44 L269,508.44 L270,508.44 L271,508.44 L272,508.44 L273,508.44 L274,508.44 L275,508.45 L276,508.45 L277,508.45 L278,508.45 L279,508.45 L280,508.45 L281,508.45 L282,508.45 L283,508.45 L284,508.45 L285,508.45 L286,508.45 L287,508.45 L288,508.45 L289,508.45 L290,508.45 L291,508.45 L292,508.45 L293,508.45 L294,508.46 L295,508.46 L296,508.46 L297,508.46 L298,508.46 L299,508.46 L300,508.46 L301,508.46 L302,508.46 L303,508.46 L304,508.46 L305,508.46 L306,508.46 L307,508.46 L308,508.46 L309,508.46 L310,508.46 L311,508.46 L312,508.46 L313,508.47 L314,508.47 L315,508.47 L316,508.47 L317,508.47 L318,508.47 L319,508.47 L320,508.47 L321,508.47 L322,508.47 L323,508.47 L324,508.47 L325,508.47 L326,508.47 L327,508.47 L328,508.47 L329,508.47 L330,508.47 L331,508.47 L332,508.48 L333,508.48 L334,508.48 L335,508.48 L336,508.48 L337,508.48 L338,508.48 L339,508.48 L340,508.48 L341,508.48 L342,508.48 L343,508.48 L344,508.48 L345,508.48 L346,508.48 L347,508.48 L348,508.48 L349,508.48 L350,508.48 L351,508.48 L352,508.49 L353,508.49 L354,508.49 L355,508.49 L356,508.49 L357,508.49 L358,508.49 L359,508.49 L360,508.49 L361,508.49 L362,508.49 L363,508.49 L364,508.49 L365,508.49 L366,508.49 L367,508.49 L368,508.49 L369,508.49 L370,508.49 L371,508.5 L372,508.5 L373,508.5 L374,508.5 L375,508.5 L376,508.5 L377,508.5 L378,508.5 L379,508.5 L380,508.5 L381,508.5 L382,508.51 L383,508.51 L384,508.51 L385,508.52 L386,508.52 L387,508.52 L388,508.53 L389,508.53 L390,508.53 L391,508.54 L392,508.54 L393,508.54 L394,508.55 L395,508.55 L396,508.55 L397,508.56 L398,508.56 L399,508.56 L400,508.57 L401,508.57 L402,508.57 L403,508.58 L404,508.58 L405,508.58 L406,508.59 L407,508.59 L408,508.59 L409,508.6 L410,508.6 L411,508.6 L412,508.61 L413,508.61 L414,508.61 L415,508.62 L416,508.62 L417,508.62 L418,508.63 L419,508.63 L420,508.63 L421,508.64 L422,508.64 L423,508.64 L424,508.65 L425,508.65 L426,508.65 L427,508.66 L428,508.66 L429,508.66 L430,508.67 L431,508.67 L432,508.67 L433,508.68 L434,508.68 L435,508.68 L436,508.69 L437,508.69 L438,508.69 L439,508.7 L440,508.7 L441,508.7 L442,508.71 L443,508.71 L444,508.71 L445,508.72 L446,508.72 L447,508.72 L448,508.73 L449,508.73 L450,508.73 L451,508.74 L452,508.74 L453,508.74 L454,508.75 L455,508.75 L456,508.75 L457,508.76 L458,508.76 L459,508.76 L460,508.77 L461,508.77 L462,508.77 L463,508.78 L464,508.78 L465,508.78 L466,508.79 L467,508.79 L468,508.79 L469,508.8 L470,508.8 L471,508.82 L472,508.83 L473,508.85 L474,508.87 L475,508.88 L476,508.9 L477,508.92 L478,508.93 L479,508.95 L480,508.97 L481,508.98 L482,509 L483,509.02 L484,509.03 L485,509.05 L486,509.07 L487,509.08 L488,509.1 L489,509.12 L490,509.13 L491,509.15 L492,509.17 L493,509.18 L494,509.2 L495,509.22 L496,509.23 L497,509.25 L498,509.27 L499,509.28 L500,509.3 L501,509.33 L502,509.37 L503,509.4 L504,509.43 L505,509.47 L506,509.5 L507,509.53 L508,509.57 L509,509.6 L510,509.63 L511,509.67 L512,509.7 L513,509.73 L514,509.77 L515,509.8 L516,509.83 L517,509.87 L518,509.9 L519,509.93 L520,509.97 L521,510 L522,510.03 L523,510.07 L524,510.1 L525,510.13 L526,510.17 L527,510.2 L528,510.23 L529,510.27 L530,510.3 L531,510.33 L532,510.37 L533,510.4 L534,510.43 L535,510.47 L536,510.5 L537,510.53 L538,510.57 L539,510.6 L540,510.63 L541,510.67 L542,510.7 L543,510.73 L544,510.77 L545,510.8 L546,510.83 L547,510.85 L548,510.88 L549,510.9 L550,510.93 L551,510.95 L552,510.98 L553,511 L554,511.03 L555,511.05 L556,511.08 L557,511.11 L558,511.13 L559,511.16 L560,511.18 L561,511.21 L562,511.23 L563,511.26 L564,511.28 L565,511.31 L566,511.33 L567,511.36 L568,511.39 L569,511.41 L570,511.44 L571,511.46 L572,511.49 L573,511.51 L574,511.54 L575,511.56 L576,511.59 L577,511.61 L578,511.64 L579,511.67 L580,511.69 L581,511.72 L582,511.74 L583,511.77 L584,511.79 L585,511.82 L586,511.84 L587,511.87 L588,511.89 L589,511.92 L590,511.95 L591,511.97 L592,512 L593,512.02 L594,512.05 L595,512.07 L596,512.1 L597,512.12 L598,512.15 L599,512.17 L600,512.2 L601,512.21 L602,512.22 L603,512.22 L604,512.23 L605,512.24 L606,512.25 L607,512.26 L608,512.26 L609,512.27 L610,512.28 L611,512.29 L612,512.3 L613,512.3 L614,512.31 L615,512.32 L616,512.33 L617,512.34 L618,512.34 L619,512.35 L620,512.36 L621,512.37 L622,512.38 L623,512.38 L624,512.39 L625,512.4 L626,512.41 L627,512.42 L628,512.42 L629,512.43 L630,512.44 L631,512.45 L632,512.46 L633,512.46 L634,512.47 L635,512.48 L636,512.49 L637,512.5 L638,512.5 L639,512.51 L640,512.52 L641,512.53 L642,512.54 L643,512.54 L644,512.55 L645,512.56 L646,512.57 L647,512.58 L648,512.58 L649,512.59 L650,512.6 L651,512.6 L652,512.6 L653,512.61 L654,512.61 L655,512.61 L656,512.61 L657,512.61 L658,512.61 L659,512.62 L660,512.62 L661,512.62 L662,512.62 L663,512.62 L664,512.63 L665,512.63 L666,512.63 L667,512.63 L668,512.63 L669,512.64 L670,512.64 L671,512.64 L672,512.64 L673,512.64 L674,512.64 L675,512.65 L676,512.65 L677,512.65 L678,512.65 L679,512.65 L680,512.66 L681,512.66 L682,512.66 L683,512.66 L684,512.66 L685,512.66 L686,512.67 L687,512.67 L688,512.67 L689,512.67 L690,512.67 L691,512.68 L692,512.68 L693,512.68 L694,512.68 L695,512.68 L696,512.69 L697,512.69 L698,512.69 L699,512.69 L700,512.69 L701,512.69 L702,512.7 L703,512.7 L704,512.7" fill="none" stroke="#ff2d00" stroke-width="1.4" stroke-dasharray="6.2 6.9"/>
<circle cx="188" cy="507.2" r="4.3" fill="url(#gR)"/>
<circle cx="193.73" cy="507.22" r="4.3" fill="url(#gR)"/>
<circle cx="199.47" cy="507.24" r="4.3" fill="url(#gR)"/>
<circle cx="205.2" cy="507.26" r="4.3" fill="url(#gR)"/>
<circle cx="210.93" cy="507.28" r="4.3" fill="url(#gR)"/>
<circle cx="216.67" cy="507.3" r="4.3" fill="url(#gR)"/>
<circle cx="222.4" cy="507.32" r="4.3" fill="url(#gR)"/>
<circle cx="228.13" cy="507.34" r="4.3" fill="url(#gR)"/>
<circle cx="233.87" cy="507.36" r="4.3" fill="url(#gR)"/>
<circle cx="239.6" cy="507.37" r="4.3" fill="url(#gR)"/>
<circle cx="245.33" cy="507.39" r="4.3" fill="url(#gR)"/>
<circle cx="251.07" cy="507.4" r="4.3" fill="url(#gR)"/>
<circle cx="256.8" cy="507.42" r="4.3" fill="url(#gR)"/>
<circle cx="262.53" cy="507.43" r="4.3" fill="url(#gR)"/>
<circle cx="268.27" cy="507.45" r="4.3" fill="url(#gR)"/>
<circle cx="274" cy="507.46" r="4.3" fill="url(#gR)"/>
<circle cx="279.73" cy="507.48" r="4.3" fill="url(#gR)"/>
<circle cx="285.47" cy="507.49" r="4.3" fill="url(#gR)"/>
<circle cx="291.2" cy="507.49" r="4.3" fill="url(#gR)"/>
<circle cx="296.93" cy="507.5" r="4.3" fill="url(#gR)"/>
<circle cx="302.67" cy="507.49" r="4.3" fill="url(#gR)"/>
<circle cx="308.4" cy="507.45" r="4.3" fill="url(#gR)"/>
<circle cx="314.13" cy="507.37" r="4.3" fill="url(#gR)"/>
<circle cx="319.87" cy="507.26" r="4.3" fill="url(#gR)"/>
<circle cx="325.6" cy="507.14" r="4.3" fill="url(#gR)"/>
<circle cx="331.33" cy="507.01" r="4.3" fill="url(#gR)"/>
<circle cx="337.07" cy="506.86" r="4.3" fill="url(#gR)"/>
<circle cx="342.8" cy="506.7" r="4.3" fill="url(#gR)"/>
<circle cx="348.53" cy="506.61" r="4.3" fill="url(#gR)"/>
<circle cx="354.27" cy="506.49" r="4.3" fill="url(#gR)"/>
<circle cx="360" cy="506.12" r="4.3" fill="url(#gR)"/>
<circle cx="365.73" cy="505.56" r="4.3" fill="url(#gR)"/>
<circle cx="371.47" cy="504.82" r="4.3" fill="url(#gR)"/>
<circle cx="377.2" cy="503.94" r="4.3" fill="url(#gR)"/>
<circle cx="382.93" cy="502.94" r="4.3" fill="url(#gR)"/>
<circle cx="388.67" cy="501.87" r="4.3" fill="url(#gR)"/>
<circle cx="394.4" cy="500.77" r="4.3" fill="url(#gR)"/>
<circle cx="400.13" cy="499.66" r="4.3" fill="url(#gR)"/>
<circle cx="405.87" cy="498.61" r="4.3" fill="url(#gR)"/>
<circle cx="411.6" cy="497.49" r="4.3" fill="url(#gR)"/>
<circle cx="417.33" cy="496.17" r="4.3" fill="url(#gR)"/>
<circle cx="423.07" cy="494.64" r="4.3" fill="url(#gR)"/>
<circle cx="428.8" cy="492.77" r="4.3" fill="url(#gR)"/>
<circle cx="434.53" cy="490.71" r="4.3" fill="url(#gR)"/>
<circle cx="440.27" cy="488.54" r="4.3" fill="url(#gR)"/>
<circle cx="446" cy="486.18" r="4.3" fill="url(#gR)"/>
<circle cx="451.73" cy="483.58" r="4.3" fill="url(#gR)"/>
<circle cx="457.47" cy="480.7" r="4.3" fill="url(#gR)"/>
<circle cx="463.2" cy="477.5" r="4.3" fill="url(#gR)"/>
<circle cx="468.93" cy="474" r="4.3" fill="url(#gR)"/>
<circle cx="474.67" cy="470.19" r="4.3" fill="url(#gR)"/>
<circle cx="480.4" cy="466.02" r="4.3" fill="url(#gR)"/>
<circle cx="486.13" cy="461.47" r="4.3" fill="url(#gR)"/>
<circle cx="491.87" cy="456.45" r="4.3" fill="url(#gR)"/>
<circle cx="497.6" cy="450.68" r="4.3" fill="url(#gR)"/>
<circle cx="503.33" cy="444.56" r="4.3" fill="url(#gR)"/>
<circle cx="509.07" cy="438.44" r="4.3" fill="url(#gR)"/>
<circle cx="514.8" cy="432.7" r="4.3" fill="url(#gR)"/>
<circle cx="520.53" cy="427.33" r="4.3" fill="url(#gR)"/>
<circle cx="526.27" cy="423.44" r="4.3" fill="url(#gR)"/>
<circle cx="532" cy="420.31" r="4.3" fill="url(#gR)"/>
<circle cx="537.73" cy="418.61" r="4.3" fill="url(#gR)"/>
<circle cx="543.47" cy="421" r="4.3" fill="url(#gR)"/>
<circle cx="549.2" cy="425.9" r="4.3" fill="url(#gR)"/>
<circle cx="554.93" cy="432.44" r="4.3" fill="url(#gR)"/>
<circle cx="560.67" cy="441.65" r="4.3" fill="url(#gR)"/>
<circle cx="566.4" cy="451.26" r="4.3" fill="url(#gR)"/>
<circle cx="572.13" cy="461.05" r="4.3" fill="url(#gR)"/>
<circle cx="577.87" cy="471.54" r="4.3" fill="url(#gR)"/>
<circle cx="583.6" cy="481.35" r="4.3" fill="url(#gR)"/>
<circle cx="589.33" cy="489.32" r="4.3" fill="url(#gR)"/>
<circle cx="595.07" cy="495.36" r="4.3" fill="url(#gR)"/>
<circle cx="600.8" cy="501" r="4.3" fill="url(#gR)"/>
<circle cx="606.53" cy="504.6" r="4.3" fill="url(#gR)"/>
<circle cx="612.27" cy="507.35" r="4.3" fill="url(#gR)"/>
<circle cx="618" cy="509" r="4.3" fill="url(#gR)"/>
<circle cx="623.73" cy="510.22" r="4.3" fill="url(#gR)"/>
<circle cx="629.47" cy="510.89" r="4.3" fill="url(#gR)"/>
<circle cx="635.2" cy="511.31" r="4.3" fill="url(#gR)"/>
<circle cx="640.93" cy="511.45" r="4.3" fill="url(#gR)"/>
<circle cx="646.67" cy="511.54" r="4.3" fill="url(#gR)"/>
<circle cx="652.4" cy="511.6" r="4.3" fill="url(#gR)"/>
<circle cx="658.13" cy="511.67" r="4.3" fill="url(#gR)"/>
<circle cx="663.87" cy="511.73" r="4.3" fill="url(#gR)"/>
<circle cx="669.6" cy="511.79" r="4.3" fill="url(#gR)"/>
<circle cx="675.33" cy="511.85" r="4.3" fill="url(#gR)"/>
<circle cx="681.07" cy="511.9" r="4.3" fill="url(#gR)"/>
<circle cx="686.8" cy="511.94" r="4.3" fill="url(#gR)"/>
<circle cx="692.53" cy="511.97" r="4.3" fill="url(#gR)"/>
<circle cx="698.27" cy="511.99" r="4.3" fill="url(#gR)"/>
<circle cx="704" cy="512" r="4.3" fill="url(#gR)"/>
</g>
<text x="31.28" y="33" font-family="Liberation Sans, sans-serif" font-size="27.6" font-weight="bold" textLength="19.96" lengthAdjust="spacingAndGlyphs" fill="#000" stroke="#000" stroke-width="0.6">b</text>
<text x="230.5" y="551" font-family="Liberation Sans, sans-serif" font-size="16" textLength="29.89" lengthAdjust="spacingAndGlyphs" fill="#111">290</text>
<text x="344.91" y="551" font-family="Liberation Sans, sans-serif" font-size="16" textLength="29.66" lengthAdjust="spacingAndGlyphs" fill="#111">288</text>
<text x="459.91" y="551" font-family="Liberation Sans, sans-serif" font-size="16" textLength="29.66" lengthAdjust="spacingAndGlyphs" fill="#111">286</text>
<text x="573.88" y="551" font-family="Liberation Sans, sans-serif" font-size="16" textLength="30.54" lengthAdjust="spacingAndGlyphs" fill="#111">284</text>
<text x="689.65" y="551" font-family="Liberation Sans, sans-serif" font-size="16" textLength="28.21" lengthAdjust="spacingAndGlyphs" fill="#111">282</text>
<text x="359.79" y="578.7" font-family="Liberation Sans, sans-serif" font-size="19" textLength="172.81" lengthAdjust="spacingAndGlyphs" fill="#111">Binding energy (eV)</text>
<g transform="translate(166.9,0) rotate(-90)"><text x="-367.1" y="0" font-family="Liberation Sans, sans-serif" font-size="18.5" textLength="122.98" lengthAdjust="spacingAndGlyphs" fill="#111">Intensity (a.u.)</text></g>
<text x="259.02" y="120" font-family="Liberation Sans, sans-serif" font-size="18.3" textLength="58.95" lengthAdjust="spacingAndGlyphs" fill="#000">O-C=O</text>
<text x="331.38" y="474" font-family="Liberation Sans, sans-serif" font-size="18.3" textLength="31.79" lengthAdjust="spacingAndGlyphs" fill="#000">C-P</text>
<text x="421.55" y="421.9" font-family="Liberation Sans, sans-serif" font-size="18.3" textLength="33.6" lengthAdjust="spacingAndGlyphs" fill="#000">C-N</text>
<text x="473.36" y="400.8" font-family="Liberation Sans, sans-serif" font-size="18.3" textLength="72.41" lengthAdjust="spacingAndGlyphs" fill="#000">C-C,C-H</text>
<line x1="288.6" y1="125.7" x2="288.6" y2="156" stroke="#000" stroke-width="1.45" marker-end="url(#ah)"/>
<line x1="367.7" y1="475.7" x2="385.8" y2="498.5" stroke="#000" stroke-width="1.45" marker-end="url(#ah)"/>
<line x1="457.2" y1="429.9" x2="497.3" y2="463.9" stroke="#000" stroke-width="1.45" marker-end="url(#ah)"/>
<line x1="520.5" y1="408.5" x2="544.5" y2="436.8" stroke="#000" stroke-width="1.45" marker-end="url(#ah)"/>
<circle cx="592.8" cy="74.8" r="4.1" fill="url(#gG)"/>
<text x="615.48" y="81" font-family="Liberation Sans, sans-serif" font-size="18" textLength="55.56" lengthAdjust="spacingAndGlyphs" fill="#000">TATPA</text>
<path d="M572.7,100.5 H604.8" stroke="#7f7f7f" stroke-width="1.35" stroke-dasharray="5.8 7.1" fill="none"/>
<text x="614.32" y="106.2" font-family="Liberation Sans, sans-serif" font-size="18" textLength="88.44" lengthAdjust="spacingAndGlyphs" fill="#000">Fit to Data</text>
<circle cx="589.4" cy="231" r="3.9" fill="url(#gB)"/>
<text x="614.96" y="236.6" font-family="Liberation Sans, sans-serif" font-size="18" textLength="56.99" lengthAdjust="spacingAndGlyphs" fill="#000">2PACz</text>
<path d="M569.9,256.7 H602.1" stroke="#05b5fb" stroke-width="1.4" stroke-dasharray="5.8 7.1" fill="none"/>
<text x="614.27" y="262.3" font-family="Liberation Sans, sans-serif" font-size="18" textLength="87.92" lengthAdjust="spacingAndGlyphs" fill="#000">Fit to data</text>
<circle cx="589.8" cy="382.5" r="3.9" fill="url(#gR)"/>
<text x="615.09" y="388.6" font-family="Liberation Sans, sans-serif" font-size="18" textLength="35.82" lengthAdjust="spacingAndGlyphs" fill="#000">SAB</text>
<path d="M569.9,408.1 H602.1" stroke="#ff2d00" stroke-width="1.4" stroke-dasharray="5.8 7.1" fill="none"/>
<text x="614.28" y="413.9" font-family="Liberation Sans, sans-serif" font-size="18" textLength="87.51" lengthAdjust="spacingAndGlyphs" fill="#000">Fit to data</text>
</svg>
</body></html>
